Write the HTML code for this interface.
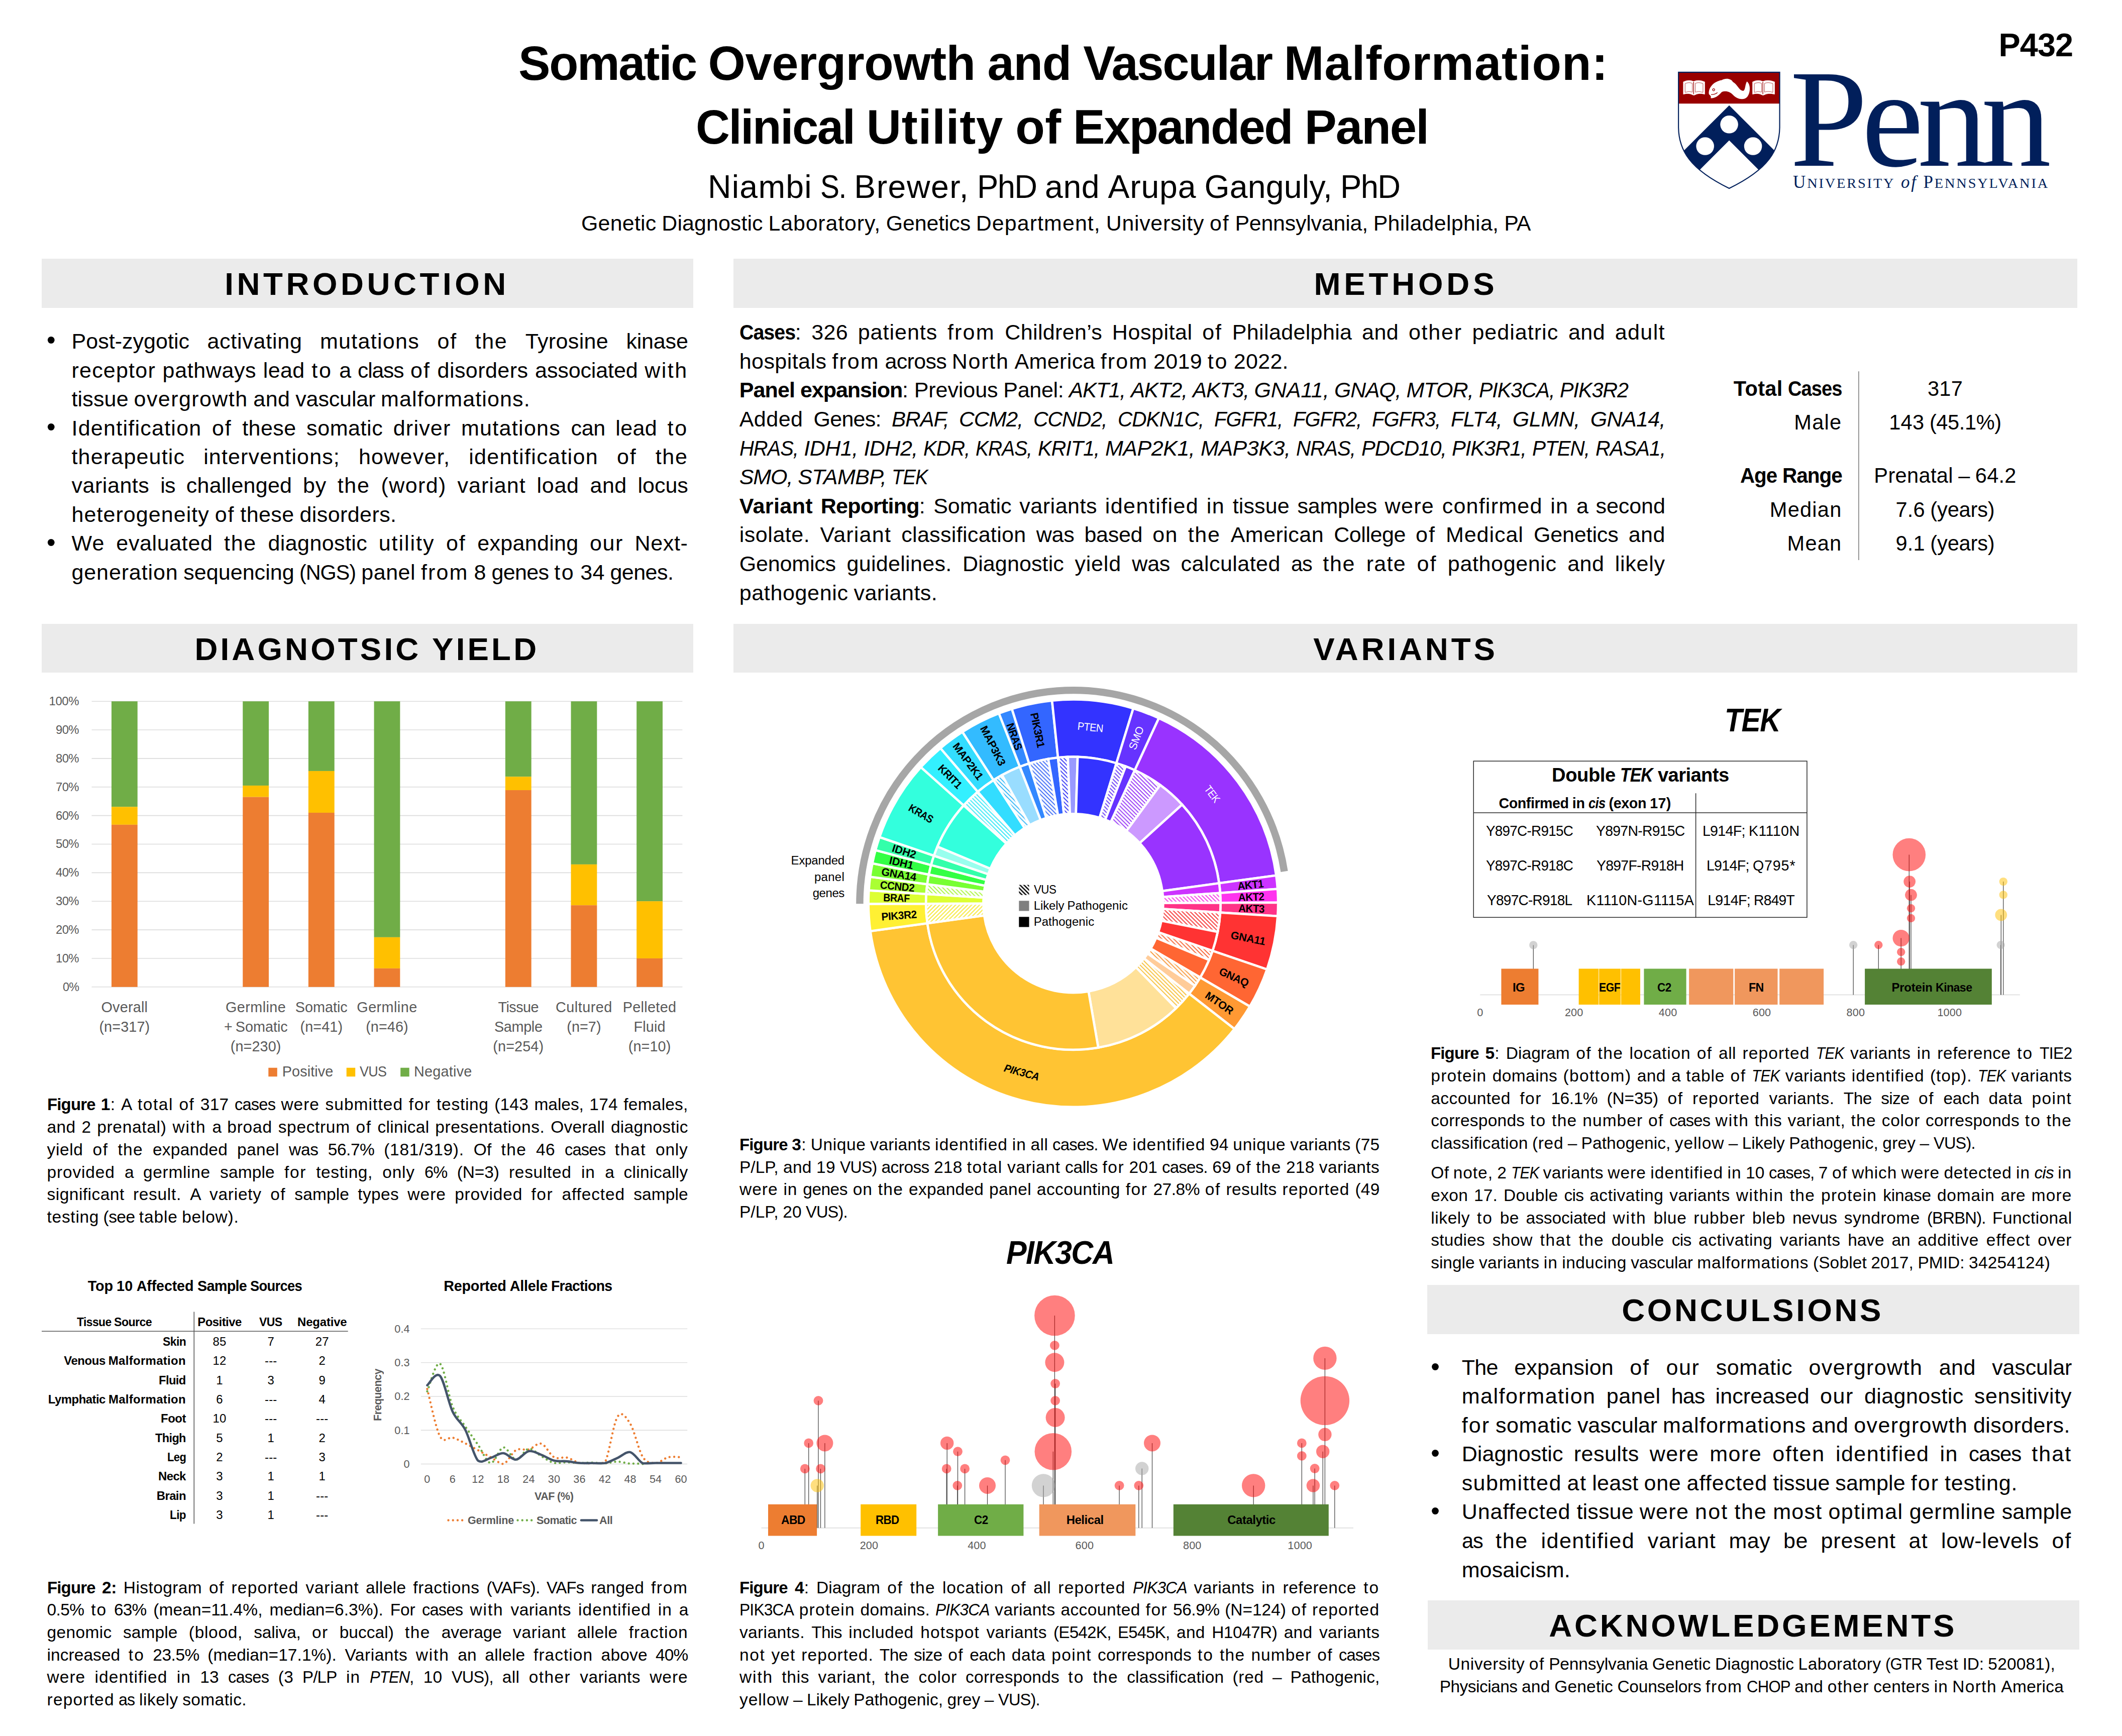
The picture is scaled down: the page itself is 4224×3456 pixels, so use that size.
<!DOCTYPE html>
<html lang="en"><head><meta charset="utf-8"><title>Somatic Overgrowth and Vascular Malformation: Clinical Utility of Expanded Panel</title>
<style>
html,body{margin:0;padding:0;background:#fff}
body{width:4224px;height:3456px;position:relative;font-family:"Liberation Sans",sans-serif;color:#000}
.t{position:absolute;white-space:pre;line-height:1;margin:0;padding:0}
.sf{font-family:"Liberation Serif",serif}
.bx{position:absolute}
svg{position:absolute;left:0;top:0}
b{font-weight:bold}i{font-style:italic}

.x{display:inline-block;transform-origin:0 0}
</style></head><body>
<div class="bx" style="left:83px;top:514.5px;width:1297px;height:98.0px;background:#EBEBEB"></div>
<div class="bx" style="left:1460px;top:514.5px;width:2675px;height:98.0px;background:#EBEBEB"></div>
<div class="bx" style="left:83px;top:1241.5px;width:1297px;height:97.5px;background:#EBEBEB"></div>
<div class="bx" style="left:1460px;top:1241.5px;width:2675px;height:97.5px;background:#EBEBEB"></div>
<div class="bx" style="left:2841px;top:2558px;width:1297.5px;height:97.5px;background:#EBEBEB"></div>
<div class="bx" style="left:2842px;top:3186px;width:1297px;height:97.5px;background:#EBEBEB"></div>
<svg width="4224" height="3456" viewBox="0 0 4224 3456">
<line x1="3699.9" y1="739.3" x2="3699.9" y2="1115" stroke="#7f7f7f" stroke-width="1.6"/>
<line x1="182.5" y1="1964.8" x2="1358.4" y2="1964.8" stroke="#dcdcdc" stroke-width="1.6"/>
<line x1="182.5" y1="1907.94" x2="1358.4" y2="1907.94" stroke="#dcdcdc" stroke-width="1.6"/>
<line x1="182.5" y1="1851.08" x2="1358.4" y2="1851.08" stroke="#dcdcdc" stroke-width="1.6"/>
<line x1="182.5" y1="1794.22" x2="1358.4" y2="1794.22" stroke="#dcdcdc" stroke-width="1.6"/>
<line x1="182.5" y1="1737.36" x2="1358.4" y2="1737.36" stroke="#dcdcdc" stroke-width="1.6"/>
<line x1="182.5" y1="1680.5" x2="1358.4" y2="1680.5" stroke="#dcdcdc" stroke-width="1.6"/>
<line x1="182.5" y1="1623.64" x2="1358.4" y2="1623.64" stroke="#dcdcdc" stroke-width="1.6"/>
<line x1="182.5" y1="1566.78" x2="1358.4" y2="1566.78" stroke="#dcdcdc" stroke-width="1.6"/>
<line x1="182.5" y1="1509.92" x2="1358.4" y2="1509.92" stroke="#dcdcdc" stroke-width="1.6"/>
<line x1="182.5" y1="1453.06" x2="1358.4" y2="1453.06" stroke="#dcdcdc" stroke-width="1.6"/>
<line x1="182.5" y1="1396.2" x2="1358.4" y2="1396.2" stroke="#dcdcdc" stroke-width="1.6"/>
<rect x="221.93" y="1396.2" width="51.8" height="210.1" fill="#70ad47"/>
<rect x="221.93" y="1606.3" width="51.8" height="35.54" fill="#ffc000"/>
<rect x="221.93" y="1641.84" width="51.8" height="322.96" fill="#ed7d31"/>
<rect x="483.24" y="1396.2" width="51.8" height="167.74" fill="#70ad47"/>
<rect x="483.24" y="1563.94" width="51.8" height="22.74" fill="#ffc000"/>
<rect x="483.24" y="1586.68" width="51.8" height="378.12" fill="#ed7d31"/>
<rect x="613.89" y="1396.2" width="51.8" height="138.74" fill="#70ad47"/>
<rect x="613.89" y="1534.94" width="51.8" height="83.02" fill="#ffc000"/>
<rect x="613.89" y="1617.95" width="51.8" height="346.85" fill="#ed7d31"/>
<rect x="744.55" y="1396.2" width="51.8" height="469.66" fill="#70ad47"/>
<rect x="744.55" y="1865.86" width="51.8" height="61.98" fill="#ffc000"/>
<rect x="744.55" y="1927.84" width="51.8" height="36.96" fill="#ed7d31"/>
<rect x="1005.86" y="1396.2" width="51.8" height="150.11" fill="#70ad47"/>
<rect x="1005.86" y="1546.31" width="51.8" height="26.72" fill="#ffc000"/>
<rect x="1005.86" y="1573.03" width="51.8" height="391.77" fill="#ed7d31"/>
<rect x="1136.52" y="1396.2" width="51.8" height="324.67" fill="#70ad47"/>
<rect x="1136.52" y="1720.87" width="51.8" height="81.31" fill="#ffc000"/>
<rect x="1136.52" y="1802.18" width="51.8" height="162.62" fill="#ed7d31"/>
<rect x="1267.17" y="1396.2" width="51.8" height="398.02" fill="#70ad47"/>
<rect x="1267.17" y="1794.22" width="51.8" height="113.72" fill="#ffc000"/>
<rect x="1267.17" y="1907.94" width="51.8" height="56.86" fill="#ed7d31"/>
<rect x="534.3" y="2125.7" width="17.5" height="17.5" fill="#ed7d31"/>
<rect x="689.7" y="2125.7" width="17.5" height="17.5" fill="#ffc000"/>
<rect x="797.2" y="2125.7" width="17.5" height="17.5" fill="#70ad47"/>
<line x1="83" y1="2650.3" x2="692.7" y2="2650.3" stroke="#595959" stroke-width="1.6"/>
<line x1="386.3" y1="2611.4" x2="386.3" y2="3033.6" stroke="#595959" stroke-width="1.6"/>
<line x1="837.8" y1="2914.5" x2="1368.2" y2="2914.5" stroke="#dcdcdc" stroke-width="1.4"/>
<line x1="837.8" y1="2847.22" x2="1368.2" y2="2847.22" stroke="#dcdcdc" stroke-width="1.4"/>
<line x1="837.8" y1="2779.94" x2="1368.2" y2="2779.94" stroke="#dcdcdc" stroke-width="1.4"/>
<line x1="837.8" y1="2712.66" x2="1368.2" y2="2712.66" stroke="#dcdcdc" stroke-width="1.4"/>
<line x1="837.8" y1="2645.38" x2="1368.2" y2="2645.38" stroke="#dcdcdc" stroke-width="1.4"/>
<path d="M850.43 2765.14C854.64 2780.84 867.27 2843.18 875.69 2859.33C884.1 2875.48 892.52 2859.67 900.94 2862.02C909.36 2864.38 917.78 2869.31 926.2 2873.46C934.62 2877.61 943.04 2882.32 951.46 2886.92C959.88 2891.51 968.3 2896.45 976.71 2901.04C985.13 2905.64 993.55 2913.5 1001.97 2914.5C1010.39 2912.15 1018.81 2891.74 1027.23 2886.92C1035.65 2882.09 1044.07 2887.7 1052.49 2885.57C1060.9 2883.44 1069.32 2871.55 1077.74 2874.13C1086.16 2876.71 1094.58 2896.45 1103 2901.04C1111.42 2905.64 1119.84 2899.81 1128.26 2901.72C1136.68 2903.62 1145.1 2910.58 1153.51 2912.48C1161.93 2913.5 1170.35 2913.27 1178.77 2913.15C1187.19 2913.04 1195.61 2913.5 1204.03 2911.81C1212.45 2896.33 1220.87 2833.2 1229.29 2820.31C1237.7 2807.41 1246.12 2820.98 1254.54 2834.44C1262.96 2847.89 1271.38 2888.04 1279.8 2901.04C1288.22 2913.5 1296.64 2912.48 1305.06 2912.48C1313.48 2912.48 1321.9 2902.95 1330.31 2901.04C1338.73 2899.14 1351.36 2901.04 1355.57 2901.04" fill="none" stroke="#ed7d31" stroke-width="4.4" stroke-linecap="round" stroke-dasharray="0.01 9.2"/>
<path d="M850.43 2769.85C854.64 2760.65 867.27 2709.63 875.69 2714.68C884.1 2719.72 892.52 2779.27 900.94 2800.12C909.36 2820.98 917.78 2827.15 926.2 2839.82C934.62 2852.49 943.04 2864.04 951.46 2876.15C959.88 2888.26 968.3 2911.58 976.71 2912.48C985.13 2913.38 993.55 2882.65 1001.97 2881.53C1010.39 2880.41 1018.81 2905.31 1027.23 2905.75C1035.65 2906.2 1044.07 2885.35 1052.49 2884.22C1060.9 2883.1 1069.32 2894.32 1077.74 2899.03C1086.16 2903.74 1094.58 2910.46 1103 2912.48C1111.42 2913.5 1119.84 2911.14 1128.26 2911.14C1136.68 2911.14 1145.1 2912.37 1153.51 2912.48C1161.93 2912.59 1170.35 2911.7 1178.77 2911.81C1187.19 2911.92 1195.61 2913.49 1204.03 2913.15C1212.45 2912.82 1220.87 2909.68 1229.29 2909.79C1237.7 2909.9 1246.12 2913.04 1254.54 2913.83C1262.96 2913.5 1275.59 2913.5 1279.8 2914.5" fill="none" stroke="#70ad47" stroke-width="4.4" stroke-linecap="round" stroke-dasharray="0.01 9.2"/>
<path d="M850.43 2757.74C854.64 2754.6 867.27 2730.15 875.69 2738.9C884.1 2747.65 892.52 2792.27 900.94 2810.22C909.36 2828.16 917.78 2830.29 926.2 2846.55C934.62 2862.81 943.04 2898.46 951.46 2907.77C959.88 2913.5 968.3 2904.86 976.71 2902.39C985.13 2899.92 993.55 2892.41 1001.97 2892.97C1010.39 2893.53 1018.81 2906.43 1027.23 2905.75C1035.65 2905.08 1044.07 2890.5 1052.49 2888.93C1060.9 2887.36 1069.32 2893.19 1077.74 2896.33C1086.16 2899.47 1094.58 2905.64 1103 2907.77C1111.42 2909.9 1119.84 2908.33 1128.26 2909.12C1136.68 2909.9 1145.1 2911.86 1153.51 2912.48C1161.93 2913.1 1170.35 2912.76 1178.77 2912.82C1187.19 2912.87 1195.61 2913.5 1204.03 2912.82C1212.45 2911.08 1220.87 2906.03 1229.29 2902.39C1237.7 2898.75 1246.12 2889.16 1254.54 2890.95C1262.96 2892.75 1271.38 2909.57 1279.8 2913.15C1288.22 2913.5 1296.64 2912.59 1305.06 2912.48C1313.48 2912.37 1321.9 2912.48 1330.31 2912.48C1338.73 2912.48 1351.36 2912.48 1355.57 2912.48" fill="none" stroke="#44546a" stroke-width="4.6" stroke-linecap="round"/>
<path d="M892.5 3026.5H924.5" fill="none" stroke="#ed7d31" stroke-width="4.4" stroke-linecap="round" stroke-dasharray="0.01 9.2"/>
<path d="M1030.5 3026.5H1062.5" fill="none" stroke="#70ad47" stroke-width="4.4" stroke-linecap="round" stroke-dasharray="0.01 9.2"/>
<path d="M1157 3026.5H1188" fill="none" stroke="#44546a" stroke-width="4.6" stroke-linecap="round"/>
<line x1="1515.5" y1="3041.8" x2="2694" y2="3041.8" stroke="#d9d9d9" stroke-width="1.6"/>
<path d="M1602.3 2923.9V3041.8M1609.7 2872.9V3041.8M1626.8 2957.4V3041.8M1629 2788.4V3041.8M1633.5 2923.9V3041.8M1641.9 2872.9V3041.8M1884.2 2923.9V3041.8M1885.2 2872.9V3041.8M1905.8 2957.4V3041.8M1906.5 2889.7V3041.8M1920.6 2923.9V3041.8M1965.5 2957.4V3041.8M2001 2906.8V3041.8M2077 2957.4V3041.8M2096.3 2889.7V3041.8M2099.4 2619V3041.8M2099.4 2678.4V3041.8M2099.4 2712.3V3041.8M2100.6 2754.5V3041.8M2100.6 2788.4V3041.8M2100.6 2821.9V3041.8M2228.1 2957.4V3041.8M2266.8 2957.4V3041.8M2273.2 2923.5V3041.8M2293.5 2872.9V3041.8M2495.2 2957.4V3041.8M2591.3 2872.9V3041.8M2591.3 2898.4V3041.8M2613.9 2957.4V3041.8M2617.1 2923.5V3041.8M2633.2 2889.7V3041.8M2637.4 2703.9V3041.8M2637.4 2788.4V3041.8M2637.4 2855.8V3041.8M2656.8 2957.4V3041.8" stroke="#484848" stroke-width="1.25" fill="none"/>
<circle cx="1602.3" cy="2923.9" r="9.4" fill="rgba(255,0,0,.5)"/>
<circle cx="1609.7" cy="2872.9" r="9.4" fill="rgba(255,0,0,.5)"/>
<circle cx="1626.8" cy="2957.4" r="13.2" fill="rgba(255,192,0,.5)"/>
<circle cx="1629" cy="2788.4" r="9.4" fill="rgba(255,0,0,.5)"/>
<circle cx="1633.5" cy="2923.9" r="9.4" fill="rgba(255,0,0,.5)"/>
<circle cx="1641.9" cy="2872.9" r="16.5" fill="rgba(255,0,0,.5)"/>
<circle cx="1884.2" cy="2923.9" r="9.4" fill="rgba(255,0,0,.5)"/>
<circle cx="1885.2" cy="2872.9" r="13.2" fill="rgba(255,0,0,.5)"/>
<circle cx="1905.8" cy="2957.4" r="9.4" fill="rgba(255,0,0,.5)"/>
<circle cx="1906.5" cy="2889.7" r="9.4" fill="rgba(255,0,0,.5)"/>
<circle cx="1920.6" cy="2923.9" r="9.4" fill="rgba(255,0,0,.5)"/>
<circle cx="1965.5" cy="2957.4" r="16.5" fill="rgba(255,0,0,.5)"/>
<circle cx="2001" cy="2906.8" r="9.4" fill="rgba(255,0,0,.5)"/>
<circle cx="2077" cy="2957.4" r="23.2" fill="rgba(165,165,165,.5)"/>
<circle cx="2096.3" cy="2889.7" r="36.8" fill="rgba(255,0,0,.5)"/>
<circle cx="2099.4" cy="2619" r="40.3" fill="rgba(255,0,0,.5)"/>
<circle cx="2099.4" cy="2678.4" r="9.4" fill="rgba(255,0,0,.5)"/>
<circle cx="2099.4" cy="2712.3" r="19" fill="rgba(255,0,0,.5)"/>
<circle cx="2100.6" cy="2754.5" r="9.4" fill="rgba(255,0,0,.5)"/>
<circle cx="2100.6" cy="2788.4" r="9.4" fill="rgba(255,0,0,.5)"/>
<circle cx="2100.6" cy="2821.9" r="19" fill="rgba(255,0,0,.5)"/>
<circle cx="2228.1" cy="2957.4" r="9.4" fill="rgba(255,0,0,.5)"/>
<circle cx="2266.8" cy="2957.4" r="9.4" fill="rgba(255,0,0,.5)"/>
<circle cx="2273.2" cy="2923.5" r="13.2" fill="rgba(165,165,165,.5)"/>
<circle cx="2293.5" cy="2872.9" r="16.5" fill="rgba(255,0,0,.5)"/>
<circle cx="2495.2" cy="2957.4" r="23.2" fill="rgba(255,0,0,.5)"/>
<circle cx="2591.3" cy="2872.9" r="9.4" fill="rgba(255,0,0,.5)"/>
<circle cx="2591.3" cy="2898.4" r="9.4" fill="rgba(255,0,0,.5)"/>
<circle cx="2613.9" cy="2957.4" r="13.2" fill="rgba(255,0,0,.5)"/>
<circle cx="2617.1" cy="2923.5" r="9.4" fill="rgba(255,0,0,.5)"/>
<circle cx="2633.2" cy="2889.7" r="13.2" fill="rgba(255,0,0,.5)"/>
<circle cx="2637.4" cy="2703.9" r="23.2" fill="rgba(255,0,0,.5)"/>
<circle cx="2637.4" cy="2788.4" r="48.7" fill="rgba(255,0,0,.5)"/>
<circle cx="2637.4" cy="2855.8" r="13.2" fill="rgba(255,0,0,.5)"/>
<circle cx="2656.8" cy="2957.4" r="9.4" fill="rgba(255,0,0,.5)"/>
<rect x="1529" y="2994.8" width="97.1" height="62.7" fill="#ed7d31"/>
<rect x="1713.2" y="2994.8" width="111" height="62.7" fill="#ffc000"/>
<rect x="1867.1" y="2994.8" width="170.3" height="62.7" fill="#70ad47"/>
<rect x="2068.7" y="2994.8" width="191.6" height="62.7" fill="#f0975d"/>
<rect x="2335.8" y="2994.8" width="309" height="62.7" fill="#548235"/>
<line x1="2946.3" y1="1980.5" x2="4020.8" y2="1980.5" stroke="#d9d9d9" stroke-width="1.6"/>
<path d="M3052.3 1881.4V1980.5M3689.2 1881.2V1980.5M3739.3 1881.2V1980.5M3784.2 1867.6V1980.5M3784.2 1895.3V1980.5M3784.2 1914.3V1980.5M3800.3 1701.6V1980.5M3801.2 1755.1V1980.5M3804 1781.7V1980.5M3804 1808.2V1980.5M3804 1828V1980.5M3987.8 1755.1V1980.5M3987.8 1781.4V1980.5M3983.3 1821.5V1980.5M3982.7 1881.2V1980.5" stroke="#484848" stroke-width="1.25" fill="none"/>
<circle cx="3052.3" cy="1881.4" r="8.2" fill="rgba(165,165,165,.5)"/>
<circle cx="3689.2" cy="1881.2" r="8.2" fill="rgba(165,165,165,.5)"/>
<circle cx="3739.3" cy="1881.2" r="8.2" fill="rgba(255,0,0,.5)"/>
<circle cx="3784.2" cy="1867.6" r="16.7" fill="rgba(255,0,0,.5)"/>
<circle cx="3784.2" cy="1895.3" r="8.2" fill="rgba(255,0,0,.5)"/>
<circle cx="3784.2" cy="1914.3" r="8.2" fill="rgba(255,0,0,.5)"/>
<circle cx="3800.3" cy="1701.6" r="32.8" fill="rgba(255,0,0,.5)"/>
<circle cx="3801.2" cy="1755.1" r="11.9" fill="rgba(255,0,0,.5)"/>
<circle cx="3804" cy="1781.7" r="11.9" fill="rgba(255,0,0,.5)"/>
<circle cx="3804" cy="1808.2" r="8.2" fill="rgba(255,0,0,.5)"/>
<circle cx="3804" cy="1828" r="8.2" fill="rgba(255,0,0,.5)"/>
<circle cx="3987.8" cy="1755.1" r="8.2" fill="rgba(255,192,0,.5)"/>
<circle cx="3987.8" cy="1781.4" r="8.2" fill="rgba(255,192,0,.5)"/>
<circle cx="3983.3" cy="1821.5" r="11.9" fill="rgba(255,192,0,.5)"/>
<circle cx="3982.7" cy="1881.2" r="8.2" fill="rgba(165,165,165,.5)"/>
<rect x="2988.4" y="1928.5" width="74" height="71.5" fill="#ed7d31"/>
<rect x="3142.6" y="1928.5" width="39.6" height="71.5" fill="#ffc000"/>
<rect x="3183.1" y="1928.5" width="42.9" height="71.5" fill="#ffc000"/>
<rect x="3226.9" y="1928.5" width="38.1" height="71.5" fill="#ffc000"/>
<rect x="3272.4" y="1928.5" width="84.2" height="71.5" fill="#70ad47"/>
<rect x="3362.1" y="1928.5" width="88.2" height="71.5" fill="#f0975d"/>
<rect x="3453.1" y="1928.5" width="85.4" height="71.5" fill="#f0975d"/>
<rect x="3542.2" y="1928.5" width="87.9" height="71.5" fill="#f0975d"/>
<rect x="3712.1" y="1928.5" width="252.7" height="71.5" fill="#548235"/>
<rect x="2933.2" y="1515.2" width="663.7" height="311.1" fill="none" stroke="#262626" stroke-width="1.5"/>
<line x1="2933.2" y1="1618.1" x2="3596.9" y2="1618.1" stroke="#262626" stroke-width="1.5"/>
<line x1="3375.6" y1="1579.2" x2="3375.6" y2="1826.3" stroke="#262626" stroke-width="1.5"/>
<defs><pattern id="h1" width="7.9" height="7.9" patternUnits="userSpaceOnUse"><rect width="7.9" height="7.9" fill="#fff"/><path d="M-1 -1L8.9 8.9M-1 6.9L1 8.9M6.9 -1L8.9 1" stroke="#a4f731" stroke-width="1.9" fill="none"/></pattern><pattern id="h6" width="7.9" height="7.9" patternUnits="userSpaceOnUse"><rect width="7.9" height="7.9" fill="#fff"/><path d="M-1 -1L8.9 8.9M-1 6.9L1 8.9M6.9 -1L8.9 1" stroke="#31e8f7" stroke-width="1.9" fill="none"/></pattern><pattern id="h8" width="7.9" height="7.9" patternUnits="userSpaceOnUse"><rect width="7.9" height="7.9" fill="#fff"/><path d="M-1 -1L8.9 8.9M-1 6.9L1 8.9M6.9 -1L8.9 1" stroke="#31b5f7" stroke-width="1.9" fill="none"/></pattern><pattern id="h10" width="7.9" height="7.9" patternUnits="userSpaceOnUse"><rect width="7.9" height="7.9" fill="#fff"/><path d="M-1 -1L8.9 8.9M-1 6.9L1 8.9M6.9 -1L8.9 1" stroke="#3162f7" stroke-width="1.9" fill="none"/></pattern><pattern id="h11" width="7.9" height="7.9" patternUnits="userSpaceOnUse"><rect width="7.9" height="7.9" fill="#fff"/><path d="M-1 -1L8.9 8.9M-1 6.9L1 8.9M6.9 -1L8.9 1" stroke="#3131f7" stroke-width="1.9" fill="none"/></pattern><pattern id="h12" width="7.9" height="7.9" patternUnits="userSpaceOnUse"><rect width="7.9" height="7.9" fill="#fff"/><path d="M-1 -1L8.9 8.9M-1 6.9L1 8.9M6.9 -1L8.9 1" stroke="#6231f7" stroke-width="1.9" fill="none"/></pattern><pattern id="h13" width="7.9" height="7.9" patternUnits="userSpaceOnUse"><rect width="7.9" height="7.9" fill="#fff"/><path d="M-1 -1L8.9 8.9M-1 6.9L1 8.9M6.9 -1L8.9 1" stroke="#9431f7" stroke-width="1.9" fill="none"/></pattern><pattern id="h15" width="7.9" height="7.9" patternUnits="userSpaceOnUse"><rect width="7.9" height="7.9" fill="#fff"/><path d="M-1 -1L8.9 8.9M-1 6.9L1 8.9M6.9 -1L8.9 1" stroke="#f731e6" stroke-width="1.9" fill="none"/></pattern><pattern id="h17" width="7.9" height="7.9" patternUnits="userSpaceOnUse"><rect width="7.9" height="7.9" fill="#fff"/><path d="M-1 -1L8.9 8.9M-1 6.9L1 8.9M6.9 -1L8.9 1" stroke="#f73131" stroke-width="1.9" fill="none"/></pattern><pattern id="h18" width="7.9" height="7.9" patternUnits="userSpaceOnUse"><rect width="7.9" height="7.9" fill="#fff"/><path d="M-1 -1L8.9 8.9M-1 6.9L1 8.9M6.9 -1L8.9 1" stroke="#f76231" stroke-width="1.9" fill="none"/></pattern><pattern id="h19" width="7.9" height="7.9" patternUnits="userSpaceOnUse"><rect width="7.9" height="7.9" fill="#fff"/><path d="M-1 -1L8.9 8.9M-1 6.9L1 8.9M6.9 -1L8.9 1" stroke="#f79431" stroke-width="1.9" fill="none"/></pattern><pattern id="h20" width="7.9" height="7.9" patternUnits="userSpaceOnUse"><rect width="7.9" height="7.9" fill="#fff"/><path d="M-1 -1L8.9 8.9M-1 6.9L1 8.9M6.9 -1L8.9 1" stroke="#f7be31" stroke-width="1.9" fill="none"/></pattern><pattern id="h21" width="7.9" height="7.9" patternUnits="userSpaceOnUse"><rect width="7.9" height="7.9" fill="#fff"/><path d="M-1 8.9L8.9 -1M-1 1L1 -1M6.9 8.9L8.9 6.9" stroke="#f7e831" stroke-width="1.9" fill="none"/></pattern><pattern id="hleg" width="7.9" height="7.9" patternUnits="userSpaceOnUse"><rect width="7.9" height="7.9" fill="#fff"/><path d="M-1 -1L8.9 8.9M-1 6.9L1 8.9M6.9 -1L8.9 1" stroke="#000" stroke-width="2.6" fill="none"/></pattern></defs>
<g transform="translate(2136.4,0) scale(1.0053,1) translate(-2136.4,0)" stroke="#fff" stroke-width="4.6" stroke-linejoin="miter"><path d="M1730.8 1799.62A405.6 405.6 0 0 1 1731.61 1772.52L1845.38 1779.74A291.6 291.6 0 0 0 1844.8 1799.22Z" fill="#ddff33"/><path d="M1844.8 1799.22A291.6 291.6 0 0 1 1845.38 1779.74L1958.76 1786.93A178.0 178.0 0 0 0 1958.4 1798.82Z" fill="#ddff33"/><path d="M1731.61 1772.52A405.6 405.6 0 0 1 1734.23 1745.54L1847.27 1760.34A291.6 291.6 0 0 0 1845.38 1779.74Z" fill="#aaff33"/><path d="M1845.38 1779.74A291.6 291.6 0 0 1 1847.27 1760.34L1959.91 1775.09A178.0 178.0 0 0 0 1958.76 1786.93Z" fill="url(#h1)"/><path d="M1734.23 1745.54A405.6 405.6 0 0 1 1738.65 1718.8L1850.44 1741.12A291.6 291.6 0 0 0 1847.27 1760.34Z" fill="#77ff33"/><path d="M1847.27 1760.34A291.6 291.6 0 0 1 1850.44 1741.12L1961.84 1763.35A178.0 178.0 0 0 0 1959.91 1775.09Z" fill="#77ff33"/><path d="M1738.65 1718.8A405.6 405.6 0 0 1 1744.84 1692.41L1854.89 1722.14A291.6 291.6 0 0 0 1850.44 1741.12Z" fill="#33ff44"/><path d="M1850.44 1741.12A291.6 291.6 0 0 1 1854.89 1722.14L1964.56 1751.77A178.0 178.0 0 0 0 1961.84 1763.35Z" fill="#33ff44"/><path d="M1744.84 1692.41A405.6 405.6 0 0 1 1752.78 1666.49L1860.6 1703.51A291.6 291.6 0 0 0 1854.89 1722.14Z" fill="#33ffaa"/><path d="M1854.89 1722.14A291.6 291.6 0 0 1 1860.6 1703.51L1968.05 1740.4A178.0 178.0 0 0 0 1964.56 1751.77Z" fill="#33ffaa"/><path d="M1752.78 1666.49A405.6 405.6 0 0 1 1834.64 1527.18L1919.45 1603.36A291.6 291.6 0 0 0 1860.6 1703.51Z" fill="#33ffdd"/><path d="M1860.6 1703.51A291.6 291.6 0 0 1 1867.54 1685.3L1972.28 1729.28A178.0 178.0 0 0 0 1968.05 1740.4Z" fill="#99ffee"/><path d="M1867.54 1685.3A291.6 291.6 0 0 1 1919.45 1603.36L2003.97 1679.26A178.0 178.0 0 0 0 1972.28 1729.28Z" fill="#33ffdd"/><path d="M1834.64 1527.18A405.6 405.6 0 0 1 1873.45 1489.38L1947.36 1576.18A291.6 291.6 0 0 0 1919.45 1603.36Z" fill="#33f0ff"/><path d="M1919.45 1603.36A291.6 291.6 0 0 1 1947.36 1576.18L2021 1662.67A178.0 178.0 0 0 0 2003.97 1679.26Z" fill="url(#h6)"/><path d="M1873.45 1489.38A405.6 405.6 0 0 1 1916.96 1457.09L1978.64 1552.96A291.6 291.6 0 0 0 1947.36 1576.18Z" fill="#33ddff"/><path d="M1947.36 1576.18A291.6 291.6 0 0 1 1978.64 1552.96L2040.1 1648.5A178.0 178.0 0 0 0 2021 1662.67Z" fill="#33ddff"/><path d="M1916.96 1457.09A405.6 405.6 0 0 1 1989.3 1420.21L2030.65 1526.45A291.6 291.6 0 0 0 1978.64 1552.96Z" fill="#33bbff"/><path d="M1978.64 1552.96A291.6 291.6 0 0 1 1995.37 1542.97L2050.31 1642.4A178.0 178.0 0 0 0 2040.1 1648.5Z" fill="url(#h8)"/><path d="M1995.37 1542.97A291.6 291.6 0 0 1 2030.65 1526.45L2071.85 1632.32A178.0 178.0 0 0 0 2050.31 1642.4Z" fill="#99ddff"/><path d="M1989.3 1420.21A405.6 405.6 0 0 1 2014.88 1411.23L2049.03 1520A291.6 291.6 0 0 0 2030.65 1526.45Z" fill="#3388ff"/><path d="M2030.65 1526.45A291.6 291.6 0 0 1 2049.03 1520L2083.07 1628.38A178.0 178.0 0 0 0 2071.85 1632.32Z" fill="#3388ff"/><path d="M2014.88 1411.23A405.6 405.6 0 0 1 2094.39 1394.78L2106.2 1508.17A291.6 291.6 0 0 0 2049.03 1520Z" fill="#3366ff"/><path d="M2049.03 1520A291.6 291.6 0 0 1 2086.89 1510.83L2106.18 1622.78A178.0 178.0 0 0 0 2083.07 1628.38Z" fill="url(#h10)"/><path d="M2086.89 1510.83A291.6 291.6 0 0 1 2106.2 1508.17L2117.96 1621.16A178.0 178.0 0 0 0 2106.18 1622.78Z" fill="#3366ff"/><path d="M2094.39 1394.78A405.6 405.6 0 0 1 2255.22 1410.39L2221.82 1519.39A291.6 291.6 0 0 0 2106.2 1508.17Z" fill="#3333ff"/><path d="M2106.2 1508.17A291.6 291.6 0 0 1 2125.64 1506.8L2129.83 1620.32A178.0 178.0 0 0 0 2117.96 1621.16Z" fill="url(#h11)"/><path d="M2125.64 1506.8A291.6 291.6 0 0 1 2145.13 1506.73L2141.73 1620.28A178.0 178.0 0 0 0 2129.83 1620.32Z" fill="#9999ff"/><path d="M2145.13 1506.73A291.6 291.6 0 0 1 2221.82 1519.39L2188.54 1628.01A178.0 178.0 0 0 0 2141.73 1620.28Z" fill="#3333ff"/><path d="M2255.22 1410.39A405.6 405.6 0 0 1 2305.85 1429.69L2258.22 1533.27A291.6 291.6 0 0 0 2221.82 1519.39Z" fill="#6633ff"/><path d="M2221.82 1519.39A291.6 291.6 0 0 1 2240.25 1525.72L2199.79 1631.87A178.0 178.0 0 0 0 2188.54 1628.01Z" fill="url(#h12)"/><path d="M2240.25 1525.72A291.6 291.6 0 0 1 2258.22 1533.27L2210.76 1636.48A178.0 178.0 0 0 0 2199.79 1631.87Z" fill="#6633ff"/><path d="M2305.85 1429.69A405.6 405.6 0 0 1 2538.19 1742.74L2425.26 1758.32A291.6 291.6 0 0 0 2258.22 1533.27Z" fill="#9933ff"/><path d="M2258.22 1533.27A291.6 291.6 0 0 1 2308.55 1562.84L2241.49 1654.53A178.0 178.0 0 0 0 2210.76 1636.48Z" fill="url(#h13)"/><path d="M2308.55 1562.84A291.6 291.6 0 0 1 2351.98 1601.85L2268 1678.34A178.0 178.0 0 0 0 2241.49 1654.53Z" fill="#cc99ff"/><path d="M2351.98 1601.85A291.6 291.6 0 0 1 2425.26 1758.32L2312.73 1773.86A178.0 178.0 0 0 0 2268 1678.34Z" fill="#9933ff"/><path d="M2538.19 1742.74A405.6 405.6 0 0 1 2541 1769.7L2427.28 1777.71A291.6 291.6 0 0 0 2425.26 1758.32Z" fill="#cc33ff"/><path d="M2425.26 1758.32A291.6 291.6 0 0 1 2427.28 1777.71L2313.96 1785.69A178.0 178.0 0 0 0 2312.73 1773.86Z" fill="#cc33ff"/><path d="M2541 1769.7A405.6 405.6 0 0 1 2542 1796.78L2428 1797.18A291.6 291.6 0 0 0 2427.28 1777.71Z" fill="#ff33ee"/><path d="M2427.28 1777.71A291.6 291.6 0 0 1 2428 1797.18L2314.4 1797.58A178.0 178.0 0 0 0 2313.96 1785.69Z" fill="url(#h15)"/><path d="M2542 1796.78A405.6 405.6 0 0 1 2541.19 1823.88L2427.42 1816.66A291.6 291.6 0 0 0 2428 1797.18Z" fill="#ff3388"/><path d="M2428 1797.18A291.6 291.6 0 0 1 2427.42 1816.66L2314.04 1809.47A178.0 178.0 0 0 0 2314.4 1797.58Z" fill="#ff3388"/><path d="M2541.19 1823.88A405.6 405.6 0 0 1 2520.02 1929.91L2412.2 1892.89A291.6 291.6 0 0 0 2427.42 1816.66Z" fill="#ff3333"/><path d="M2427.42 1816.66A291.6 291.6 0 0 1 2422.36 1855.28L2310.96 1833.05A178.0 178.0 0 0 0 2314.04 1809.47Z" fill="url(#h17)"/><path d="M2422.36 1855.28A291.6 291.6 0 0 1 2412.2 1892.89L2304.75 1856A178.0 178.0 0 0 0 2310.96 1833.05Z" fill="#ff3333"/><path d="M2520.02 1929.91A405.6 405.6 0 0 1 2486.1 2003.68L2387.81 1945.93A291.6 291.6 0 0 0 2412.2 1892.89Z" fill="#ff6633"/><path d="M2412.2 1892.89A291.6 291.6 0 0 1 2405.26 1911.1L2300.52 1867.12A178.0 178.0 0 0 0 2304.75 1856Z" fill="url(#h18)"/><path d="M2405.26 1911.1A291.6 291.6 0 0 1 2387.81 1945.93L2289.87 1888.38A178.0 178.0 0 0 0 2300.52 1867.12Z" fill="#ff6633"/><path d="M2486.1 2003.68A405.6 405.6 0 0 1 2455.59 2048.46L2365.88 1978.12A291.6 291.6 0 0 0 2387.81 1945.93Z" fill="#ff9933"/><path d="M2387.81 1945.93A291.6 291.6 0 0 1 2377.38 1962.39L2283.5 1898.43A178.0 178.0 0 0 0 2289.87 1888.38Z" fill="url(#h19)"/><path d="M2377.38 1962.39A291.6 291.6 0 0 1 2365.88 1978.12L2276.48 1908.03A178.0 178.0 0 0 0 2283.5 1898.43Z" fill="#ffcc99"/><path d="M2455.59 2048.46A405.6 405.6 0 0 1 1734.61 1853.66L1847.54 1838.08A291.6 291.6 0 0 0 2365.88 1978.12Z" fill="#ffc433"/><path d="M2365.88 1978.12A291.6 291.6 0 0 1 2339.85 2007.1L2260.59 1925.72A178.0 178.0 0 0 0 2276.48 1908.03Z" fill="url(#h20)"/><path d="M2339.85 2007.1A291.6 291.6 0 0 1 2185.91 2085.57L2166.62 1973.62A178.0 178.0 0 0 0 2260.59 1925.72Z" fill="#ffe199"/><path d="M2185.91 2085.57A291.6 291.6 0 0 1 1847.54 1838.08L1960.07 1822.54A178.0 178.0 0 0 0 2166.62 1973.62Z" fill="#ffc433"/><path d="M1734.61 1853.66A405.6 405.6 0 0 1 1730.8 1799.62L1844.8 1799.22A291.6 291.6 0 0 0 1847.54 1838.08Z" fill="#fff033"/><path d="M1847.54 1838.08A291.6 291.6 0 0 1 1844.8 1799.22L1958.4 1798.82A178.0 178.0 0 0 0 1960.07 1822.54Z" fill="url(#h21)"/></g>
<path d="M1711.4 1799.2A425 425 0 0 1 2556.51 1734.91" fill="none" stroke="#a6a6a6" stroke-width="14.4"/>
<rect x="2028.3" y="1761.6" width="20.2" height="20.2" fill="url(#hleg)"/>
<rect x="2028.3" y="1793.3" width="20.2" height="20.2" fill="#7f7f7f"/>
<rect x="2028.3" y="1825.3" width="20.2" height="20.2" fill="#000"/>
<g transform="translate(3300,40) scale(0.42409)"><clipPath id="shc"><path d="M97 245H572V500C572 610 520 700 335 790C150 700 97 610 97 500Z"/></clipPath><path d="M97 245H572V500C572 610 520 700 335 790C150 700 97 610 97 500Z" fill="#fff"/><g clip-path="url(#shc)"><rect x="90" y="240" width="490" height="152" fill="#990000"/><path d="M335 400L35 700L117.5 782.5L335 565L552.5 782.5L635 700Z" fill="#011f5b"/></g><circle cx="335" cy="490" r="42" fill="#fff"/><circle cx="222" cy="592" r="42" fill="#fff"/><circle cx="447" cy="592" r="42" fill="#fff"/><g fill="#fff" stroke="#fff" stroke-width="2"><path d="M120 290Q145 278 168 288Q192 278 220 290V348Q192 340 172 352H166Q146 340 120 348Z"/><path d="M445 290Q470 278 493 288Q517 278 548 290V348Q517 340 497 352H491Q471 340 445 348Z"/></g><path d="M168 290V348M493 290V348" stroke="#990000" stroke-width="3" fill="none"/><path d="M128 298Q147 290 162 297V338Q147 332 128 339ZM176 297Q192 290 212 298V339Q192 332 176 338ZM453 298Q472 290 487 297V338Q472 332 453 339ZM501 297Q517 290 540 298V339Q517 332 501 338Z" fill="none" stroke="#990000" stroke-width="1.6"/><path d="M240 348C236 318 262 288 300 282C320 270 345 276 352 290C372 300 380 328 398 332C412 334 408 306 418 288C436 300 436 340 420 360C404 378 372 372 352 350C338 336 318 330 300 338C290 350 270 370 248 366C252 358 246 354 240 348Z" fill="#fff"/><path d="M262 322A5 5 0 1 0 262.1 322M250 350Q268 350 280 340" fill="none" stroke="#990000" stroke-width="3"/><path d="M97 245H572V500C572 610 520 700 335 790C150 700 97 610 97 500Z" fill="none" stroke="#011f5b" stroke-width="5"/></g>
</svg>
<div class="t" style="left:447.23px;top:533px;font-size:63.63px;letter-spacing:6.56px"><b>INTRODUCTION</b></div>
<div class="t" style="left:2615.42px;top:533px;font-size:63.63px;letter-spacing:6.84px"><b>METHODS</b></div>
<div class="t" style="left:387.38px;top:1260px;font-size:63.63px;letter-spacing:5.16px"><b>DIAGNOTSIC YIELD</b></div>
<div class="t" style="left:2614.19px;top:1260px;font-size:63.63px;letter-spacing:5.88px"><b>VARIANTS</b></div>
<div class="t" style="left:3228.21px;top:2576px;font-size:63.63px;letter-spacing:4.62px"><b>CONCULSIONS</b></div>
<div class="t" style="left:3083.2px;top:3204px;font-size:63.63px;letter-spacing:4.8px"><b>ACKNOWLEDGEMENTS</b></div>
<div class="t" style="left:1031.77px;top:78px;font-size:95.67px;word-spacing:-2.55px"><b><span class="x" style="letter-spacing:-2.39px;transform:scaleX(0.9955);margin-right:-1.6px">Somatic</span> <span style="letter-spacing:-0.49px">Overgrowth</span> <span style="letter-spacing:-1.17px">and</span> <span style="letter-spacing:-2.24px">Vascular</span> <span style="letter-spacing:1.01px">Malformation:</span></b></div>
<div class="t" style="left:1385px;top:205px;font-size:95.94px;word-spacing:-2.56px"><b><span class="x" style="letter-spacing:-2.4px;transform:scaleX(0.9800);margin-right:-6.45px">Clinical</span> <span style="letter-spacing:0.86px">Utility</span> <span style="letter-spacing:0.24px">of</span> <span class="x" style="letter-spacing:-2.4px;transform:scaleX(0.9927);margin-right:-3.22px">Expanded</span> <span style="letter-spacing:-1.91px">Panel</span></b></div>
<div class="t" style="left:1409px;top:340px;font-size:64.35px;word-spacing:-1.7px"><span style="letter-spacing:1.28px">Niambi</span> <span class="x" style="letter-spacing:-1.61px;transform:scaleX(0.8841);margin-right:-6.67px">S.</span> <span style="letter-spacing:1.53px">Brewer,</span> <span class="x" style="letter-spacing:-1.61px;transform:scaleX(0.9847);margin-right:-1.85px">PhD</span> <span style="letter-spacing:0.68px">and</span> <span style="letter-spacing:0.8px">Arupa</span> <span style="letter-spacing:0.25px">Ganguly,</span> <span class="x" style="letter-spacing:-1.61px;transform:scaleX(0.9847);margin-right:-1.85px">PhD</span></div>
<div class="t" style="left:1157px;top:423px;font-size:42.88px;word-spacing:-1.12px"><span style="letter-spacing:0.25px">Genetic</span> <span style="letter-spacing:0.11px">Diagnostic</span> <span style="letter-spacing:0.9px">Laboratory,</span> <span style="letter-spacing:-0.13px">Genetics</span> <span style="letter-spacing:1.11px">Department,</span> <span style="letter-spacing:0.72px">University</span> <span style="letter-spacing:1.95px">of</span> <span style="letter-spacing:-0.19px">Pennsylvania,</span> <span style="letter-spacing:0.32px">Philadelphia,</span> <span style="letter-spacing:-0.91px">PA</span></div>
<div class="t" style="left:3978.5px;top:58px;font-size:64.8px;word-spacing:-1.72px"><b><span style="letter-spacing:-0.89px">P432</span></b></div>
<div class="t" style="left:142.5px;top:658px;font-size:43.02px;word-spacing:23.35px"><span style="letter-spacing:0.03px">Post-zygotic</span> <span style="letter-spacing:0.74px">activating</span> <span style="letter-spacing:1.3px">mutations</span> <span style="letter-spacing:1.96px">of</span> <span style="letter-spacing:1.7px">the</span> <span style="letter-spacing:0.35px">Tyrosine</span> <span style="letter-spacing:-0.19px">kinase</span></div>
<div class="t" style="left:142.5px;top:716px;font-size:43.02px;word-spacing:1.75px"><span style="letter-spacing:1.2px">receptor</span> <span style="letter-spacing:0.6px">pathways</span> <span style="letter-spacing:0.36px">lead</span> <span style="letter-spacing:2.67px">to</span> <span style="letter-spacing:-1.03px">a</span> <span class="x" style="letter-spacing:-1.08px;transform:scaleX(0.9874);margin-right:-1.17px">class</span> <span style="letter-spacing:1.96px">of</span> <span style="letter-spacing:0.44px">disorders</span> <span style="letter-spacing:-0.12px">associated</span> <span style="letter-spacing:2.44px">with</span></div>
<div class="t" style="left:142.5px;top:773px;font-size:43.02px;word-spacing:-1.14px"><span style="letter-spacing:0.15px">tissue</span> <span style="letter-spacing:1.41px">overgrowth</span> <span style="letter-spacing:0.45px">and</span> <span style="letter-spacing:-0.14px">vascular</span> <span style="letter-spacing:1.11px">malformations.</span></div>
<div class="t" style="left:142.5px;top:831px;font-size:43.02px;word-spacing:8.49px"><span style="letter-spacing:1.25px">Identification</span> <span style="letter-spacing:1.96px">of</span> <span style="letter-spacing:0.43px">these</span> <span style="letter-spacing:0.57px">somatic</span> <span style="letter-spacing:1.2px">driver</span> <span style="letter-spacing:1.3px">mutations</span> <span style="letter-spacing:-0.38px">can</span> <span style="letter-spacing:0.36px">lead</span> <span style="letter-spacing:2.67px">to</span></div>
<div class="t" style="left:142.5px;top:888px;font-size:43.02px;word-spacing:25px"><span style="letter-spacing:1.17px">therapeutic</span> <span style="letter-spacing:1.14px">interventions;</span> <span style="letter-spacing:1.26px">however,</span> <span style="letter-spacing:1.34px">identification</span> <span style="letter-spacing:1.96px">of</span> <span style="letter-spacing:1.7px">the</span></div>
<div class="t" style="left:142.5px;top:945px;font-size:43.02px;word-spacing:9.9px"><span style="letter-spacing:0.53px">variants</span> <span style="letter-spacing:-0.7px">is</span> <span style="letter-spacing:0.24px">challenged</span> <span style="letter-spacing:0.66px">by</span> <span style="letter-spacing:1.7px">the</span> <span style="letter-spacing:1.38px">(word)</span> <span style="letter-spacing:1px">variant</span> <span style="letter-spacing:0.71px">load</span> <span style="letter-spacing:0.45px">and</span> <span style="letter-spacing:-0.04px">locus</span></div>
<div class="t" style="left:142.5px;top:1003px;font-size:43.02px;word-spacing:-1.14px"><span style="letter-spacing:1.05px">heterogeneity</span> <span style="letter-spacing:1.96px">of</span> <span style="letter-spacing:0.43px">these</span> <span style="letter-spacing:0.41px">disorders.</span></div>
<div class="t" style="left:142.5px;top:1060px;font-size:43.02px;word-spacing:10.58px"><span style="letter-spacing:1.28px">We</span> <span style="letter-spacing:0.62px">evaluated</span> <span style="letter-spacing:1.7px">the</span> <span style="letter-spacing:0.4px">diagnostic</span> <span style="letter-spacing:1.95px">utility</span> <span style="letter-spacing:1.96px">of</span> <span style="letter-spacing:0.31px">expanding</span> <span style="letter-spacing:1.6px">our</span> <span style="letter-spacing:0.64px">Next-</span></div>
<div class="t" style="left:142.5px;top:1118px;font-size:43.02px;word-spacing:-1.14px"><span style="letter-spacing:0.87px">generation</span> <span style="letter-spacing:0.03px">sequencing</span> <span class="x" style="letter-spacing:-1.08px;transform:scaleX(0.9611);margin-right:-4.53px">(NGS)</span> <span style="letter-spacing:0.53px">panel</span> <span style="letter-spacing:2.15px">from</span> <span style="letter-spacing:0.3px">8</span> <span style="letter-spacing:-0.67px">genes</span> <span style="letter-spacing:2.67px">to</span> <span style="letter-spacing:0.3px">34</span> <span style="letter-spacing:-0.54px">genes.</span></div>
<div class="t" style="left:92.8px;top:651px;font-size:51.39px;word-spacing:-1.36px"><span style="letter-spacing:10.44px">•</span></div>
<div class="t" style="left:92.8px;top:824px;font-size:51.39px;word-spacing:-1.36px"><span style="letter-spacing:10.44px">•</span></div>
<div class="t" style="left:92.8px;top:1054px;font-size:51.39px;word-spacing:-1.36px"><span style="letter-spacing:10.44px">•</span></div>
<div class="t" style="left:1471.7px;top:640px;font-size:43.02px;word-spacing:7.76px"><b><span class="x" style="letter-spacing:-1.08px;transform:scaleX(0.9152);margin-right:-10.29px">Cases</span></b><span style="letter-spacing:0.84px">:</span> <span style="letter-spacing:0.3px">326</span> <span style="letter-spacing:0.99px">patients</span> <span style="letter-spacing:2.15px">from</span> <span style="letter-spacing:0.33px">Children’s</span> <span style="letter-spacing:0.53px">Hospital</span> <span style="letter-spacing:1.96px">of</span> <span style="letter-spacing:0.35px">Philadelphia</span> <span style="letter-spacing:0.45px">and</span> <span style="letter-spacing:1.75px">other</span> <span style="letter-spacing:1.02px">pediatric</span> <span style="letter-spacing:0.45px">and</span> <span style="letter-spacing:1.37px">adult</span></div>
<div class="t" style="left:1471.7px;top:698px;font-size:43.02px;word-spacing:-1.14px"><span style="letter-spacing:0.43px">hospitals</span> <span style="letter-spacing:2.15px">from</span> <span style="letter-spacing:-0.72px">across</span> <span style="letter-spacing:1.73px">North</span> <span style="letter-spacing:0.37px">America</span> <span style="letter-spacing:2.15px">from</span> <span style="letter-spacing:0.3px">2019</span> <span style="letter-spacing:2.67px">to</span> <span style="letter-spacing:0.26px">2022.</span></div>
<div class="t" style="left:1471.7px;top:755px;font-size:43.02px;word-spacing:-1.14px"><b><span style="letter-spacing:-0.86px">Panel</span> <span style="letter-spacing:-1.07px">expansion</span></b><span style="letter-spacing:0.84px">:</span> <span style="letter-spacing:-0.08px">Previous</span> <span style="letter-spacing:-0.29px">Panel:</span> <i><span class="x" style="letter-spacing:-1.08px;transform:scaleX(0.9805);margin-right:-2.23px">AKT1,</span> <span class="x" style="letter-spacing:-1.08px;transform:scaleX(0.9805);margin-right:-2.23px">AKT2,</span> <span class="x" style="letter-spacing:-1.08px;transform:scaleX(0.9805);margin-right:-2.23px">AKT3,</span> <span style="letter-spacing:-0.14px">GNA11,</span> <span class="x" style="letter-spacing:-1.08px;transform:scaleX(0.9929);margin-right:-0.95px">GNAQ,</span> <span style="letter-spacing:-0.9px">MTOR,</span> <span class="x" style="letter-spacing:-1.08px;transform:scaleX(0.9550);margin-right:-7.08px">PIK3CA,</span> <span class="x" style="letter-spacing:-1.08px;transform:scaleX(0.9590);margin-right:-5.81px">PIK3R2</span></i></div>
<div class="t" style="left:1471.7px;top:813px;font-size:43.02px;word-spacing:9.06px"><span style="letter-spacing:0.48px">Added</span> <span style="letter-spacing:-0.73px">Genes:</span> <i><span class="x" style="letter-spacing:-1.08px;transform:scaleX(0.9805);margin-right:-2.26px">BRAF,</span> <span class="x" style="letter-spacing:-1.08px;transform:scaleX(0.9883);margin-right:-1.5px">CCM2,</span> <span class="x" style="letter-spacing:-1.08px;transform:scaleX(0.9520);margin-right:-7.38px">CCND2,</span> <span class="x" style="letter-spacing:-1.08px;transform:scaleX(0.9440);margin-right:-10.16px">CDKN1C,</span> <span class="x" style="letter-spacing:-1.08px;transform:scaleX(0.9296);margin-right:-10.31px">FGFR1,</span> <span class="x" style="letter-spacing:-1.08px;transform:scaleX(0.9296);margin-right:-10.31px">FGFR2,</span> <span class="x" style="letter-spacing:-1.08px;transform:scaleX(0.9296);margin-right:-10.31px">FGFR3,</span> <span class="x" style="letter-spacing:-1.08px;transform:scaleX(0.9780);margin-right:-2.28px">FLT4,</span> <span style="letter-spacing:-0.47px">GLMN,</span> <span style="letter-spacing:-0.67px">GNA14,</span></i></div>
<div class="t" style="left:1471.7px;top:871px;font-size:43.02px;word-spacing:-0.26px"><i><span class="x" style="letter-spacing:-1.08px;transform:scaleX(0.9274);margin-right:-9.15px">HRAS,</span> <span style="letter-spacing:-0.52px">IDH1,</span> <span style="letter-spacing:-0.52px">IDH2,</span> <span class="x" style="letter-spacing:-1.08px;transform:scaleX(0.9355);margin-right:-6.35px">KDR,</span> <span class="x" style="letter-spacing:-1.08px;transform:scaleX(0.9052);margin-right:-11.73px">KRAS,</span> <span class="x" style="letter-spacing:-1.08px;transform:scaleX(0.9598);margin-right:-5.13px">KRIT1,</span> <span style="letter-spacing:-0.47px">MAP2K1,</span> <span style="letter-spacing:-0.47px">MAP3K3,</span> <span class="x" style="letter-spacing:-1.08px;transform:scaleX(0.9355);margin-right:-8.14px">NRAS,</span> <span class="x" style="letter-spacing:-1.08px;transform:scaleX(0.9696);margin-right:-5.3px">PDCD10,</span> <span class="x" style="letter-spacing:-1.08px;transform:scaleX(0.9688);margin-right:-4.77px">PIK3R1,</span> <span class="x" style="letter-spacing:-1.08px;transform:scaleX(0.9403);margin-right:-7.25px">PTEN,</span> <span class="x" style="letter-spacing:-1.08px;transform:scaleX(0.9486);margin-right:-7.53px">RASA1,</span></i></div>
<div class="t" style="left:1471.7px;top:928px;font-size:43.02px;word-spacing:-1.14px"><i><span style="letter-spacing:-1.06px">SMO,</span> <span style="letter-spacing:-0.58px">STAMBP,</span> <span class="x" style="letter-spacing:-1.08px;transform:scaleX(0.8884);margin-right:-8.98px">TEK</span></i></div>
<div class="t" style="left:1471.7px;top:986px;font-size:43.02px;word-spacing:3.73px"><b><span style="letter-spacing:0.42px">Variant</span> <span style="letter-spacing:-0.8px">Reporting</span></b><span style="letter-spacing:0.84px">:</span> Somatic <span style="letter-spacing:0.53px">variants</span> <span style="letter-spacing:1.42px">identified</span> <span style="letter-spacing:1.3px">in</span> <span style="letter-spacing:0.15px">tissue</span> <span style="letter-spacing:-0.27px">samples</span> <span style="letter-spacing:1.29px">were</span> <span style="letter-spacing:1.22px">confirmed</span> <span style="letter-spacing:1.3px">in</span> <span style="letter-spacing:-1.03px">a</span> <span style="letter-spacing:-0.1px">second</span></div>
<div class="t" style="left:1471.7px;top:1043px;font-size:43.02px;word-spacing:8.15px"><span style="letter-spacing:0.54px">isolate.</span> <span style="letter-spacing:1.22px">Variant</span> <span style="letter-spacing:0.32px">classification</span> <span style="letter-spacing:-0.24px">was</span> <span style="letter-spacing:-0.32px">based</span> <span style="letter-spacing:1.23px">on</span> <span style="letter-spacing:1.7px">the</span> <span style="letter-spacing:0.47px">American</span> <span style="letter-spacing:-0.45px">College</span> <span style="letter-spacing:1.96px">of</span> <span style="letter-spacing:0.94px">Medical</span> <span style="letter-spacing:-0.13px">Genetics</span> <span style="letter-spacing:0.45px">and</span></div>
<div class="t" style="left:1471.7px;top:1101px;font-size:43.02px;word-spacing:9.51px"><span style="letter-spacing:-0.17px">Genomics</span> <span style="letter-spacing:0.31px">guidelines.</span> <span style="letter-spacing:0.11px">Diagnostic</span> <span style="letter-spacing:0.8px">yield</span> <span style="letter-spacing:-0.24px">was</span> <span style="letter-spacing:0.45px">calculated</span> <span class="x" style="letter-spacing:-1.08px;transform:scaleX(0.9609);margin-right:-1.69px">as</span> <span style="letter-spacing:1.7px">the</span> <span style="letter-spacing:1.31px">rate</span> <span style="letter-spacing:1.96px">of</span> <span style="letter-spacing:0.64px">pathogenic</span> <span style="letter-spacing:0.45px">and</span> <span style="letter-spacing:0.74px">likely</span></div>
<div class="t" style="left:1471.7px;top:1159px;font-size:43.02px;word-spacing:-1.14px"><span style="letter-spacing:0.64px">pathogenic</span> <span style="letter-spacing:0.48px">variants.</span></div>
<div class="t" style="left:3450.83px;top:753px;font-size:41.58px;word-spacing:-1.11px"><b><span style="letter-spacing:0.33px">Total</span> <span class="x" style="letter-spacing:-1.04px;transform:scaleX(0.9150);margin-right:-9.97px">Cases</span></b></div>
<div class="t" style="left:3836.88px;top:753px;font-size:41.58px;word-spacing:-1.11px"><span style="letter-spacing:0.29px">317</span></div>
<div class="t" style="left:3571.3px;top:820px;font-size:41.58px;word-spacing:-1.11px"><span style="letter-spacing:1.27px">Male</span></div>
<div class="t" style="left:3760.2px;top:820px;font-size:41.58px;word-spacing:-1.11px"><span style="letter-spacing:0.29px">143</span> <span style="letter-spacing:-0.38px">(45.1%)</span></div>
<div class="t" style="left:3464.16px;top:926px;font-size:41.58px;word-spacing:-1.11px"><b><span class="x" style="letter-spacing:-1.04px;transform:scaleX(0.9695);margin-right:-2.3px">Age</span> <span class="x" style="letter-spacing:-1.04px;transform:scaleX(0.9743);margin-right:-3.13px">Range</span></b></div>
<div class="t" style="left:3730.33px;top:926px;font-size:41.58px;word-spacing:-1.11px"><span style="letter-spacing:0.33px">Prenatal</span> <span style="letter-spacing:-0.11px">–</span> <span style="letter-spacing:0.24px">64.2</span></div>
<div class="t" style="left:3522.77px;top:994px;font-size:41.58px;word-spacing:-1.11px"><span style="letter-spacing:1.23px">Median</span></div>
<div class="t" style="left:3773.43px;top:994px;font-size:41.58px;word-spacing:-1.11px"><span style="letter-spacing:0.22px">7.6</span> <span style="letter-spacing:-0.17px">(years)</span></div>
<div class="t" style="left:3557.62px;top:1061px;font-size:41.58px;word-spacing:-1.11px"><span style="letter-spacing:1.21px">Mean</span></div>
<div class="t" style="left:3773.43px;top:1061px;font-size:41.58px;word-spacing:-1.11px"><span style="letter-spacing:0.22px">9.1</span> <span style="letter-spacing:-0.17px">(years)</span></div>
<div class="t" style="left:93.6px;top:2182px;font-size:33.48px;word-spacing:2.17px"><b><span class="x" style="letter-spacing:-0.84px;transform:scaleX(0.9843);margin-right:-1.52px">Figure</span> <span style="letter-spacing:0.23px">1</span></b><span style="letter-spacing:0.64px">:</span> <span style="letter-spacing:-0.8px">A</span> <span style="letter-spacing:1.52px">total</span> <span style="letter-spacing:1.52px">of</span> <span style="letter-spacing:0.23px">317</span> <span class="x" style="letter-spacing:-0.84px;transform:scaleX(0.9746);margin-right:-2.11px">cases</span> <span style="letter-spacing:1px">were</span> <span style="letter-spacing:1.08px">submitted</span> <span style="letter-spacing:1.62px">for</span> <span style="letter-spacing:0.71px">testing</span> <span style="letter-spacing:0.21px">(143</span> <span style="letter-spacing:-0.03px">males,</span> <span style="letter-spacing:0.23px">174</span> <span style="letter-spacing:0.22px">females,</span></div>
<div class="t" style="left:93.6px;top:2227px;font-size:33.48px;word-spacing:2.61px"><span style="letter-spacing:0.35px">and</span> <span style="letter-spacing:0.23px">2</span> <span style="letter-spacing:0.7px">prenatal)</span> <span style="letter-spacing:1.9px">with</span> <span style="letter-spacing:-0.8px">a</span> <span style="letter-spacing:0.77px">broad</span> <span style="letter-spacing:0.67px">spectrum</span> <span style="letter-spacing:1.52px">of</span> <span style="letter-spacing:0.31px">clinical</span> <span style="letter-spacing:0.55px">presentations.</span> <span style="letter-spacing:0.25px">Overall</span> <span style="letter-spacing:0.31px">diagnostic</span></div>
<div class="t" style="left:93.6px;top:2272px;font-size:33.48px;word-spacing:9.67px"><span style="letter-spacing:0.62px">yield</span> <span style="letter-spacing:1.52px">of</span> <span style="letter-spacing:1.32px">the</span> <span style="letter-spacing:0.26px">expanded</span> <span style="letter-spacing:0.41px">panel</span> <span style="letter-spacing:-0.19px">was</span> <span style="letter-spacing:-0.48px">56.7%</span> <span style="letter-spacing:0.68px">(181/319).</span> <span style="letter-spacing:0.32px">Of</span> <span style="letter-spacing:1.32px">the</span> <span style="letter-spacing:0.23px">46</span> <span class="x" style="letter-spacing:-0.84px;transform:scaleX(0.9746);margin-right:-2.11px">cases</span> <span style="letter-spacing:1.61px">that</span> <span style="letter-spacing:0.78px">only</span></div>
<div class="t" style="left:93.6px;top:2317px;font-size:33.48px;word-spacing:9.97px"><span style="letter-spacing:0.83px">provided</span> <span style="letter-spacing:-0.8px">a</span> <span style="letter-spacing:0.68px">germline</span> <span style="letter-spacing:0.12px">sample</span> <span style="letter-spacing:1.62px">for</span> <span style="letter-spacing:0.61px">testing,</span> <span style="letter-spacing:0.78px">only</span> <span class="x" style="letter-spacing:-0.84px;transform:scaleX(0.9729);margin-right:-1.26px">6%</span> <span style="letter-spacing:-0.14px">(N=3)</span> <span style="letter-spacing:0.69px">resulted</span> <span style="letter-spacing:1.01px">in</span> <span style="letter-spacing:-0.8px">a</span> <span style="letter-spacing:0.37px">clinically</span></div>
<div class="t" style="left:93.6px;top:2361px;font-size:33.48px;word-spacing:7.94px"><span style="letter-spacing:0.48px">significant</span> <span style="letter-spacing:0.69px">result.</span> <span style="letter-spacing:-0.8px">A</span> <span style="letter-spacing:0.76px">variety</span> <span style="letter-spacing:1.52px">of</span> <span style="letter-spacing:0.12px">sample</span> <span style="letter-spacing:0.38px">types</span> <span style="letter-spacing:1px">were</span> <span style="letter-spacing:0.83px">provided</span> <span style="letter-spacing:1.62px">for</span> <span style="letter-spacing:0.85px">affected</span> <span style="letter-spacing:0.12px">sample</span></div>
<div class="t" style="left:93.6px;top:2406px;font-size:33.48px;word-spacing:-0.89px"><span style="letter-spacing:0.71px">testing</span> <span style="letter-spacing:-0.57px">(see</span> <span style="letter-spacing:0.86px">table</span> <span style="letter-spacing:0.79px">below).</span></div>
<div class="t" style="left:93.6px;top:3144px;font-size:33.48px;word-spacing:4.42px"><b><span class="x" style="letter-spacing:-0.84px;transform:scaleX(0.9843);margin-right:-1.52px">Figure</span> <span style="letter-spacing:-0.33px">2:</span></b> <span style="letter-spacing:0.42px">Histogram</span> <span style="letter-spacing:1.52px">of</span> <span style="letter-spacing:1.18px">reported</span> <span style="letter-spacing:0.78px">variant</span> <span style="letter-spacing:0.38px">allele</span> <span style="letter-spacing:0.67px">fractions</span> <span style="letter-spacing:-0.68px">(VAFs).</span> <span class="x" style="letter-spacing:-0.84px;transform:scaleX(0.9770);margin-right:-1.75px">VAFs</span> <span style="letter-spacing:0.28px">ranged</span> <span style="letter-spacing:1.68px">from</span></div>
<div class="t" style="left:93.6px;top:3188px;font-size:33.48px;word-spacing:4.61px"><span style="letter-spacing:-0.66px">0.5%</span> <span style="letter-spacing:2.08px">to</span> <span class="x" style="letter-spacing:-0.84px;transform:scaleX(0.9968);margin-right:-0.21px">63%</span> <span style="letter-spacing:0.09px">(mean=11.4%,</span> <span style="letter-spacing:0.03px">median=6.3%).</span> <span style="letter-spacing:-0.18px">For</span> <span class="x" style="letter-spacing:-0.84px;transform:scaleX(0.9746);margin-right:-2.11px">cases</span> <span style="letter-spacing:1.9px">with</span> <span style="letter-spacing:0.41px">variants</span> <span style="letter-spacing:1.1px">identified</span> <span style="letter-spacing:1.01px">in</span> <span style="letter-spacing:-0.8px">a</span></div>
<div class="t" style="left:93.6px;top:3233px;font-size:33.48px;word-spacing:12.91px"><span style="letter-spacing:0.37px">genomic</span> <span style="letter-spacing:0.12px">sample</span> <span style="letter-spacing:0.72px">(blood,</span> <span style="letter-spacing:-0.22px">saliva,</span> <span style="letter-spacing:1.41px">or</span> <span style="letter-spacing:0.04px">buccal)</span> <span style="letter-spacing:1.32px">the</span> <span style="letter-spacing:-0.15px">average</span> <span style="letter-spacing:0.78px">variant</span> <span style="letter-spacing:0.38px">allele</span> <span style="letter-spacing:1.03px">fraction</span></div>
<div class="t" style="left:93.6px;top:3278px;font-size:33.48px;word-spacing:7.19px"><span style="letter-spacing:0.06px">increased</span> <span style="letter-spacing:2.08px">to</span> <span style="letter-spacing:-0.48px">23.5%</span> <span style="letter-spacing:0.05px">(median=17.1%).</span> <span style="letter-spacing:0.56px">Variants</span> <span style="letter-spacing:1.9px">with</span> <span style="letter-spacing:0.06px">an</span> <span style="letter-spacing:0.38px">allele</span> <span style="letter-spacing:1.03px">fraction</span> <span style="letter-spacing:0.21px">above</span> <span class="x" style="letter-spacing:-0.84px;transform:scaleX(0.9968);margin-right:-0.21px">40%</span></div>
<div class="t" style="left:93.6px;top:3322px;font-size:33.48px;word-spacing:9.05px"><span style="letter-spacing:1px">were</span> <span style="letter-spacing:1.1px">identified</span> <span style="letter-spacing:1.01px">in</span> <span style="letter-spacing:0.23px">13</span> <span class="x" style="letter-spacing:-0.84px;transform:scaleX(0.9746);margin-right:-2.11px">cases</span> <span style="letter-spacing:0.18px">(3</span> <span class="x" style="letter-spacing:-0.84px;transform:scaleX(0.9885);margin-right:-0.79px">P/LP</span> <span style="letter-spacing:1.01px">in</span> <i><span class="x" style="letter-spacing:-0.84px;transform:scaleX(0.9249);margin-right:-6.45px">PTEN</span></i><span style="letter-spacing:-0.03px">,</span> <span style="letter-spacing:0.23px">10</span> <span class="x" style="letter-spacing:-0.84px;transform:scaleX(0.9710);margin-right:-2.47px">VUS),</span> <span style="letter-spacing:0.46px">all</span> <span style="letter-spacing:1.36px">other</span> <span style="letter-spacing:0.41px">variants</span> <span style="letter-spacing:1px">were</span></div>
<div class="t" style="left:93.6px;top:3367px;font-size:33.48px;word-spacing:-0.89px"><span style="letter-spacing:1.18px">reported</span> <span class="x" style="letter-spacing:-0.84px;transform:scaleX(0.9606);margin-right:-1.33px">as</span> <span style="letter-spacing:0.58px">likely</span> <span style="letter-spacing:0.4px">somatic.</span></div>
<div class="t" style="left:1472px;top:2262px;font-size:33.48px;word-spacing:-0.67px"><b><span class="x" style="letter-spacing:-0.84px;transform:scaleX(0.9843);margin-right:-1.52px">Figure</span> <span style="letter-spacing:0.23px">3</span></b><span style="letter-spacing:0.64px">:</span> <span style="letter-spacing:0.58px">Unique</span> <span style="letter-spacing:0.41px">variants</span> <span style="letter-spacing:1.1px">identified</span> <span style="letter-spacing:1.01px">in</span> <span style="letter-spacing:0.46px">all</span> <span class="x" style="letter-spacing:-0.84px;transform:scaleX(0.9871);margin-right:-1.18px">cases.</span> <span style="letter-spacing:0.99px">We</span> <span style="letter-spacing:1.1px">identified</span> <span style="letter-spacing:0.23px">94</span> <span style="letter-spacing:0.78px">unique</span> <span style="letter-spacing:0.41px">variants</span> <span style="letter-spacing:0.2px">(75</span></div>
<div class="t" style="left:1472px;top:2307px;font-size:33.48px;word-spacing:-0.07px"><span style="letter-spacing:0.03px">P/LP,</span> <span style="letter-spacing:0.35px">and</span> <span style="letter-spacing:0.23px">19</span> <span class="x" style="letter-spacing:-0.84px;transform:scaleX(0.9570);margin-right:-3.29px">VUS)</span> <span style="letter-spacing:-0.56px">across</span> <span style="letter-spacing:0.23px">218</span> <span style="letter-spacing:1.52px">total</span> <span style="letter-spacing:0.78px">variant</span> <span style="letter-spacing:-0.36px">calls</span> <span style="letter-spacing:1.62px">for</span> <span style="letter-spacing:0.23px">201</span> <span class="x" style="letter-spacing:-0.84px;transform:scaleX(0.9871);margin-right:-1.18px">cases.</span> <span style="letter-spacing:0.23px">69</span> <span style="letter-spacing:1.52px">of</span> <span style="letter-spacing:1.32px">the</span> <span style="letter-spacing:0.23px">218</span> <span style="letter-spacing:0.41px">variants</span></div>
<div class="t" style="left:1472px;top:2351px;font-size:33.48px;word-spacing:1.53px"><span style="letter-spacing:1px">were</span> <span style="letter-spacing:1.01px">in</span> <span style="letter-spacing:-0.52px">genes</span> <span style="letter-spacing:0.96px">on</span> <span style="letter-spacing:1.32px">the</span> <span style="letter-spacing:0.26px">expanded</span> <span style="letter-spacing:0.41px">panel</span> <span style="letter-spacing:0.41px">accounting</span> <span style="letter-spacing:1.62px">for</span> <span style="letter-spacing:-0.48px">27.8%</span> <span style="letter-spacing:1.52px">of</span> <span style="letter-spacing:0.36px">results</span> <span style="letter-spacing:1.18px">reported</span> <span style="letter-spacing:0.2px">(49</span></div>
<div class="t" style="left:1472px;top:2396px;font-size:33.48px;word-spacing:-0.89px"><span style="letter-spacing:0.03px">P/LP,</span> <span style="letter-spacing:0.23px">20</span> <span class="x" style="letter-spacing:-0.84px;transform:scaleX(0.9722);margin-right:-2.36px">VUS).</span></div>
<div class="t" style="left:1472px;top:3144px;font-size:33.48px;word-spacing:4.88px"><b><span class="x" style="letter-spacing:-0.84px;transform:scaleX(0.9843);margin-right:-1.52px">Figure</span> <span style="letter-spacing:0.23px">4</span></b><span style="letter-spacing:0.64px">:</span> <span style="letter-spacing:0.1px">Diagram</span> <span style="letter-spacing:1.52px">of</span> <span style="letter-spacing:1.32px">the</span> <span style="letter-spacing:0.81px">location</span> <span style="letter-spacing:1.52px">of</span> <span style="letter-spacing:0.46px">all</span> <span style="letter-spacing:1.18px">reported</span> <i><span class="x" style="letter-spacing:-0.84px;transform:scaleX(0.9444);margin-right:-6.34px">PIK3CA</span></i> <span style="letter-spacing:0.41px">variants</span> <span style="letter-spacing:1.01px">in</span> <span style="letter-spacing:0.57px">reference</span> <span style="letter-spacing:2.08px">to</span></div>
<div class="t" style="left:1472px;top:3188px;font-size:33.48px;word-spacing:1.35px"><span class="x" style="letter-spacing:-0.84px;transform:scaleX(0.9480);margin-right:-5.93px">PIK3CA</span> <span style="letter-spacing:1.26px">protein</span> <span style="letter-spacing:0.36px">domains.</span> <i><span class="x" style="letter-spacing:-0.84px;transform:scaleX(0.9444);margin-right:-6.34px">PIK3CA</span></i> <span style="letter-spacing:0.41px">variants</span> <span style="letter-spacing:0.44px">accounted</span> <span style="letter-spacing:1.62px">for</span> <span style="letter-spacing:-0.48px">56.9%</span> <span style="letter-spacing:-0.03px">(N=124)</span> <span style="letter-spacing:1.52px">of</span> <span style="letter-spacing:1.18px">reported</span></div>
<div class="t" style="left:1472px;top:3233px;font-size:33.48px;word-spacing:4.08px"><span style="letter-spacing:0.37px">variants.</span> <span style="letter-spacing:-0.62px">This</span> <span style="letter-spacing:0.6px">included</span> <span style="letter-spacing:1.14px">hotspot</span> <span style="letter-spacing:0.41px">variants</span> <span class="x" style="letter-spacing:-0.84px;transform:scaleX(0.9957);margin-right:-0.5px">(E542K,</span> <span class="x" style="letter-spacing:-0.84px;transform:scaleX(0.9860);margin-right:-1.46px">E545K,</span> <span style="letter-spacing:0.35px">and</span> <span style="letter-spacing:-0.56px">H1047R)</span> <span style="letter-spacing:0.35px">and</span> <span style="letter-spacing:0.41px">variants</span></div>
<div class="t" style="left:1472px;top:3278px;font-size:33.48px;word-spacing:2.66px"><span style="letter-spacing:1.69px">not</span> <span style="letter-spacing:1.05px">yet</span> <span style="letter-spacing:1.06px">reported.</span> <span style="letter-spacing:-0.5px">The</span> <span style="letter-spacing:-0.81px">size</span> <span style="letter-spacing:1.52px">of</span> <span style="letter-spacing:-0.25px">each</span> <span style="letter-spacing:0.62px">data</span> <span style="letter-spacing:1.42px">point</span> <span style="letter-spacing:0.26px">corresponds</span> <span style="letter-spacing:2.08px">to</span> <span style="letter-spacing:1.32px">the</span> <span style="letter-spacing:1.05px">number</span> <span style="letter-spacing:1.52px">of</span> <span class="x" style="letter-spacing:-0.84px;transform:scaleX(0.9746);margin-right:-2.11px">cases</span></div>
<div class="t" style="left:1472px;top:3322px;font-size:33.48px;word-spacing:7.83px"><span style="letter-spacing:1.9px">with</span> <span style="letter-spacing:0.75px">this</span> <span style="letter-spacing:0.68px">variant,</span> <span style="letter-spacing:1.32px">the</span> <span style="letter-spacing:0.78px">color</span> <span style="letter-spacing:0.26px">corresponds</span> <span style="letter-spacing:2.08px">to</span> <span style="letter-spacing:1.32px">the</span> <span style="letter-spacing:0.25px">classification</span> <span style="letter-spacing:0.69px">(red</span> <span style="letter-spacing:-0.09px">–</span> <span style="letter-spacing:0.09px">Pathogenic,</span></div>
<div class="t" style="left:1472px;top:3367px;font-size:33.48px;word-spacing:-0.89px"><span style="letter-spacing:0.93px">yellow</span> <span style="letter-spacing:-0.09px">–</span> <span style="letter-spacing:-0.1px">Likely</span> <span style="letter-spacing:0.09px">Pathogenic,</span> <span style="letter-spacing:0.18px">grey</span> <span style="letter-spacing:-0.09px">–</span> <span class="x" style="letter-spacing:-0.84px;transform:scaleX(0.9722);margin-right:-2.36px">VUS).</span></div>
<div class="t" style="left:2848.3px;top:2080px;font-size:33.48px;word-spacing:3.1px"><b><span class="x" style="letter-spacing:-0.84px;transform:scaleX(0.9843);margin-right:-1.52px">Figure</span> <span style="letter-spacing:0.23px">5</span></b><span style="letter-spacing:0.64px">:</span> <span style="letter-spacing:0.1px">Diagram</span> <span style="letter-spacing:1.52px">of</span> <span style="letter-spacing:1.32px">the</span> <span style="letter-spacing:0.81px">location</span> <span style="letter-spacing:1.52px">of</span> <span style="letter-spacing:0.46px">all</span> <span style="letter-spacing:1.18px">reported</span> <i><span class="x" style="letter-spacing:-0.84px;transform:scaleX(0.8886);margin-right:-6.97px">TEK</span></i> <span style="letter-spacing:0.41px">variants</span> <span style="letter-spacing:1.01px">in</span> <span style="letter-spacing:0.57px">reference</span> <span style="letter-spacing:2.08px">to</span> <span class="x" style="letter-spacing:-0.84px;transform:scaleX(0.9578);margin-right:-2.84px">TIE2</span></div>
<div class="t" style="left:2848.3px;top:2125px;font-size:33.48px;word-spacing:2.06px"><span style="letter-spacing:1.26px">protein</span> <span style="letter-spacing:0.4px">domains</span> <span style="letter-spacing:1.42px">(bottom)</span> <span style="letter-spacing:0.35px">and</span> <span style="letter-spacing:-0.8px">a</span> <span style="letter-spacing:0.86px">table</span> <span style="letter-spacing:1.52px">of</span> <i><span class="x" style="letter-spacing:-0.84px;transform:scaleX(0.8886);margin-right:-6.97px">TEK</span></i> <span style="letter-spacing:0.41px">variants</span> <span style="letter-spacing:1.1px">identified</span> <span style="letter-spacing:0.9px">(top).</span> <i><span class="x" style="letter-spacing:-0.84px;transform:scaleX(0.8886);margin-right:-6.97px">TEK</span></i> <span style="letter-spacing:0.41px">variants</span></div>
<div class="t" style="left:2848.3px;top:2170px;font-size:33.48px;word-spacing:9.12px"><span style="letter-spacing:0.44px">accounted</span> <span style="letter-spacing:1.62px">for</span> <span style="letter-spacing:-0.48px">16.1%</span> <span style="letter-spacing:-0.08px">(N=35)</span> <span style="letter-spacing:1.52px">of</span> <span style="letter-spacing:1.18px">reported</span> <span style="letter-spacing:0.37px">variants.</span> <span style="letter-spacing:-0.5px">The</span> <span style="letter-spacing:-0.81px">size</span> <span style="letter-spacing:1.52px">of</span> <span style="letter-spacing:-0.25px">each</span> <span style="letter-spacing:0.62px">data</span> <span style="letter-spacing:1.42px">point</span></div>
<div class="t" style="left:2848.3px;top:2214px;font-size:33.48px;word-spacing:1.49px"><span style="letter-spacing:0.26px">corresponds</span> <span style="letter-spacing:2.08px">to</span> <span style="letter-spacing:1.32px">the</span> <span style="letter-spacing:1.05px">number</span> <span style="letter-spacing:1.52px">of</span> <span class="x" style="letter-spacing:-0.84px;transform:scaleX(0.9746);margin-right:-2.11px">cases</span> <span style="letter-spacing:1.9px">with</span> <span style="letter-spacing:0.75px">this</span> <span style="letter-spacing:0.68px">variant,</span> <span style="letter-spacing:1.32px">the</span> <span style="letter-spacing:0.78px">color</span> <span style="letter-spacing:0.26px">corresponds</span> <span style="letter-spacing:2.08px">to</span> <span style="letter-spacing:1.32px">the</span></div>
<div class="t" style="left:2848.3px;top:2259px;font-size:33.48px;word-spacing:-0.89px"><span style="letter-spacing:0.25px">classification</span> <span style="letter-spacing:0.69px">(red</span> <span style="letter-spacing:-0.09px">–</span> <span style="letter-spacing:0.09px">Pathogenic,</span> <span style="letter-spacing:0.93px">yellow</span> <span style="letter-spacing:-0.09px">–</span> <span style="letter-spacing:-0.1px">Likely</span> <span style="letter-spacing:0.09px">Pathogenic,</span> <span style="letter-spacing:0.18px">grey</span> <span style="letter-spacing:-0.09px">–</span> <span class="x" style="letter-spacing:-0.84px;transform:scaleX(0.9722);margin-right:-2.36px">VUS).</span></div>
<div class="t" style="left:2848.3px;top:2318px;font-size:33.48px;word-spacing:-0.97px"><span style="letter-spacing:0.32px">Of</span> <span style="letter-spacing:0.99px">note,</span> <span style="letter-spacing:0.23px">2</span> <i><span class="x" style="letter-spacing:-0.84px;transform:scaleX(0.8886);margin-right:-6.97px">TEK</span></i> <span style="letter-spacing:0.41px">variants</span> <span style="letter-spacing:1px">were</span> <span style="letter-spacing:1.1px">identified</span> <span style="letter-spacing:1.01px">in</span> <span style="letter-spacing:0.23px">10</span> <span class="x" style="letter-spacing:-0.84px;transform:scaleX(0.9859);margin-right:-1.29px">cases,</span> <span style="letter-spacing:0.23px">7</span> <span style="letter-spacing:1.52px">of</span> <span style="letter-spacing:0.87px">which</span> <span style="letter-spacing:1px">were</span> <span style="letter-spacing:0.85px">detected</span> <span style="letter-spacing:1.01px">in</span> <i><span style="letter-spacing:-0.81px">cis</span></i> <span style="letter-spacing:1.01px">in</span></div>
<div class="t" style="left:2848.3px;top:2363px;font-size:33.48px;word-spacing:2.58px"><span style="letter-spacing:0.3px">exon</span> <span style="letter-spacing:0.19px">17.</span> <span style="letter-spacing:0.42px">Double</span> <span style="letter-spacing:-0.7px">cis</span> <span style="letter-spacing:0.58px">activating</span> <span style="letter-spacing:0.41px">variants</span> <span style="letter-spacing:1.6px">within</span> <span style="letter-spacing:1.32px">the</span> <span style="letter-spacing:1.26px">protein</span> <span style="letter-spacing:-0.15px">kinase</span> <span style="letter-spacing:0.83px">domain</span> <span style="letter-spacing:0.3px">are</span> <span style="letter-spacing:1.13px">more</span></div>
<div class="t" style="left:2848.3px;top:2408px;font-size:33.48px;word-spacing:4.46px"><span style="letter-spacing:0.58px">likely</span> <span style="letter-spacing:2.08px">to</span> <span style="letter-spacing:0.41px">be</span> <span style="letter-spacing:-0.09px">associated</span> <span style="letter-spacing:1.9px">with</span> <span style="letter-spacing:0.71px">blue</span> <span style="letter-spacing:1.05px">rubber</span> <span style="letter-spacing:0.71px">bleb</span> <span style="letter-spacing:-0.08px">nevus</span> <span style="letter-spacing:0.54px">syndrome</span> <span class="x" style="letter-spacing:-0.84px;transform:scaleX(0.9821);margin-right:-2.13px">(BRBN).</span> <span style="letter-spacing:0.4px">Functional</span></div>
<div class="t" style="left:2848.3px;top:2452px;font-size:33.48px;word-spacing:5.37px"><span style="letter-spacing:0.23px">studies</span> <span style="letter-spacing:0.54px">show</span> <span style="letter-spacing:1.61px">that</span> <span style="letter-spacing:1.32px">the</span> <span style="letter-spacing:0.79px">double</span> <span style="letter-spacing:-0.7px">cis</span> <span style="letter-spacing:0.58px">activating</span> <span style="letter-spacing:0.41px">variants</span> have <span style="letter-spacing:0.06px">an</span> <span style="letter-spacing:0.79px">additive</span> <span style="letter-spacing:1.1px">effect</span> <span style="letter-spacing:0.69px">over</span></div>
<div class="t" style="left:2848.3px;top:2497px;font-size:33.48px;word-spacing:-0.89px"><span style="letter-spacing:-0.05px">single</span> <span style="letter-spacing:0.41px">variants</span> <span style="letter-spacing:1.01px">in</span> <span style="letter-spacing:0.47px">inducing</span> <span style="letter-spacing:-0.11px">vascular</span> <span style="letter-spacing:0.92px">malformations</span> <span style="letter-spacing:0.14px">(Soblet</span> <span style="letter-spacing:0.18px">2017,</span> <span style="letter-spacing:0.05px">PMID:</span> <span style="letter-spacing:0.22px">34254124)</span></div>
<div class="t" style="left:2909.7px;top:2701px;font-size:43.02px;word-spacing:20.43px"><span style="letter-spacing:-0.65px">The</span> <span style="letter-spacing:0.16px">expansion</span> <span style="letter-spacing:1.96px">of</span> <span style="letter-spacing:1.6px">our</span> <span style="letter-spacing:0.57px">somatic</span> <span style="letter-spacing:1.41px">overgrowth</span> <span style="letter-spacing:0.45px">and</span> <span style="letter-spacing:-0.14px">vascular</span></div>
<div class="t" style="left:2909.7px;top:2758px;font-size:43.02px;word-spacing:9.16px"><span style="letter-spacing:1.52px">malformation</span> <span style="letter-spacing:0.53px">panel</span> <span style="letter-spacing:-0.89px">has</span> <span style="letter-spacing:0.08px">increased</span> <span style="letter-spacing:1.6px">our</span> <span style="letter-spacing:0.4px">diagnostic</span> <span style="letter-spacing:0.73px">sensitivity</span></div>
<div class="t" style="left:2909.7px;top:2816px;font-size:43.02px;word-spacing:-1.14px"><span style="letter-spacing:2.09px">for</span> <span style="letter-spacing:0.57px">somatic</span> <span style="letter-spacing:-0.14px">vascular</span> <span style="letter-spacing:1.19px">malformations</span> <span style="letter-spacing:0.45px">and</span> <span style="letter-spacing:1.41px">overgrowth</span> <span style="letter-spacing:0.41px">disorders.</span></div>
<div class="t" style="left:2909.7px;top:2873px;font-size:43.02px;word-spacing:9.15px"><span style="letter-spacing:0.11px">Diagnostic</span> <span style="letter-spacing:0.46px">results</span> <span style="letter-spacing:1.29px">were</span> <span style="letter-spacing:1.46px">more</span> <span style="letter-spacing:1.8px">often</span> <span style="letter-spacing:1.42px">identified</span> <span style="letter-spacing:1.3px">in</span> <span class="x" style="letter-spacing:-1.08px;transform:scaleX(0.9746);margin-right:-2.72px">cases</span> <span style="letter-spacing:2.07px">that</span></div>
<div class="t" style="left:2909.7px;top:2931px;font-size:43.02px;word-spacing:-1.14px"><span style="letter-spacing:1.39px">submitted</span> <span style="letter-spacing:1.52px">at</span> <span style="letter-spacing:0.3px">least</span> <span style="letter-spacing:0.78px">one</span> <span style="letter-spacing:1.09px">affected</span> <span style="letter-spacing:0.15px">tissue</span> <span style="letter-spacing:0.16px">sample</span> <span style="letter-spacing:2.09px">for</span> <span style="letter-spacing:0.81px">testing.</span></div>
<div class="t" style="left:2909.7px;top:2988px;font-size:43.02px;word-spacing:0.02px"><span style="letter-spacing:0.95px">Unaffected</span> <span style="letter-spacing:0.15px">tissue</span> <span style="letter-spacing:1.29px">were</span> <span style="letter-spacing:2.17px">not</span> <span style="letter-spacing:1.7px">the</span> <span style="letter-spacing:1.22px">most</span> <span style="letter-spacing:1.52px">optimal</span> <span style="letter-spacing:0.88px">germline</span> <span style="letter-spacing:0.16px">sample</span></div>
<div class="t" style="left:2909.7px;top:3046px;font-size:43.02px;word-spacing:13.74px"><span class="x" style="letter-spacing:-1.08px;transform:scaleX(0.9609);margin-right:-1.69px">as</span> <span style="letter-spacing:1.7px">the</span> <span style="letter-spacing:1.42px">identified</span> <span style="letter-spacing:1px">variant</span> <span style="letter-spacing:0.48px">may</span> <span style="letter-spacing:0.52px">be</span> <span style="letter-spacing:0.81px">present</span> <span style="letter-spacing:1.52px">at</span> <span style="letter-spacing:0.59px">low-levels</span> <span style="letter-spacing:1.96px">of</span></div>
<div class="t" style="left:2909.7px;top:3104px;font-size:43.02px;word-spacing:-1.14px"><span style="letter-spacing:0.1px">mosaicism.</span></div>
<div class="t" style="left:2847.9px;top:2695px;font-size:51.39px;word-spacing:-1.36px"><span style="letter-spacing:10.44px">•</span></div>
<div class="t" style="left:2847.9px;top:2867px;font-size:51.39px;word-spacing:-1.36px"><span style="letter-spacing:10.44px">•</span></div>
<div class="t" style="left:2847.9px;top:2982px;font-size:51.39px;word-spacing:-1.36px"><span style="letter-spacing:10.44px">•</span></div>
<div class="t" style="left:2882.75px;top:3296px;font-size:33.48px;word-spacing:-0.89px"><span style="letter-spacing:0.57px">University</span> <span style="letter-spacing:1.52px">of</span> <span style="letter-spacing:-0.16px">Pennsylvania</span> <span style="letter-spacing:0.2px">Genetic</span> <span style="letter-spacing:0.09px">Diagnostic</span> <span style="letter-spacing:0.52px">Laboratory</span> <span class="x" style="letter-spacing:-0.84px;transform:scaleX(0.9313);margin-right:-5.39px">(GTR</span> <span style="letter-spacing:0.56px">Test</span> <span style="letter-spacing:-0.19px">ID:</span> <span style="letter-spacing:0.19px">520081),</span></div>
<div class="t" style="left:2865.68px;top:3341px;font-size:33.48px;word-spacing:-0.89px"><span style="letter-spacing:-0.52px">Physicians</span> <span style="letter-spacing:0.35px">and</span> <span style="letter-spacing:0.2px">Genetic</span> <span style="letter-spacing:-0.21px">Counselors</span> <span style="letter-spacing:1.68px">from</span> <span class="x" style="letter-spacing:-0.84px;transform:scaleX(0.9303);margin-right:-6.51px">CHOP</span> <span style="letter-spacing:0.35px">and</span> <span style="letter-spacing:1.36px">other</span> <span style="letter-spacing:0.35px">centers</span> <span style="letter-spacing:1.01px">in</span> <span style="letter-spacing:1.35px">North</span> <span style="letter-spacing:0.29px">America</span></div>
<div class="t" style="left:2003.32px;top:2462px;font-size:64.8px;word-spacing:-1.72px"><b><i><span class="x" style="letter-spacing:-1.62px;transform:scaleX(0.9404);margin-right:-13.58px">PIK3CA</span></i></b></div>
<div class="t" style="left:3432.52px;top:1402px;font-size:64.8px;word-spacing:-1.72px"><b><i><span class="x" style="letter-spacing:-1.62px;transform:scaleX(0.8830);margin-right:-14.59px">TEK</span></i></b></div>
<div class="t" style="left:124.5px;top:1953px;font-size:23.94px;word-spacing:-0.62px;color:#595959"><span class="x" style="letter-spacing:-0.6px;transform:scaleX(0.9727);margin-right:-0.91px">0%</span></div>
<div class="t" style="left:111.03px;top:1896px;font-size:23.94px;word-spacing:-0.62px;color:#595959"><span class="x" style="letter-spacing:-0.6px;transform:scaleX(0.9966);margin-right:-0.16px">10%</span></div>
<div class="t" style="left:111.03px;top:1839px;font-size:23.94px;word-spacing:-0.62px;color:#595959"><span class="x" style="letter-spacing:-0.6px;transform:scaleX(0.9966);margin-right:-0.16px">20%</span></div>
<div class="t" style="left:111.03px;top:1782px;font-size:23.94px;word-spacing:-0.62px;color:#595959"><span class="x" style="letter-spacing:-0.6px;transform:scaleX(0.9966);margin-right:-0.16px">30%</span></div>
<div class="t" style="left:111.03px;top:1725px;font-size:23.94px;word-spacing:-0.62px;color:#595959"><span class="x" style="letter-spacing:-0.6px;transform:scaleX(0.9966);margin-right:-0.16px">40%</span></div>
<div class="t" style="left:111.03px;top:1668px;font-size:23.94px;word-spacing:-0.62px;color:#595959"><span class="x" style="letter-spacing:-0.6px;transform:scaleX(0.9966);margin-right:-0.16px">50%</span></div>
<div class="t" style="left:111.03px;top:1612px;font-size:23.94px;word-spacing:-0.62px;color:#595959"><span class="x" style="letter-spacing:-0.6px;transform:scaleX(0.9966);margin-right:-0.16px">60%</span></div>
<div class="t" style="left:111.03px;top:1555px;font-size:23.94px;word-spacing:-0.62px;color:#595959"><span class="x" style="letter-spacing:-0.6px;transform:scaleX(0.9966);margin-right:-0.16px">70%</span></div>
<div class="t" style="left:111.03px;top:1498px;font-size:23.94px;word-spacing:-0.62px;color:#595959"><span class="x" style="letter-spacing:-0.6px;transform:scaleX(0.9966);margin-right:-0.16px">80%</span></div>
<div class="t" style="left:111.03px;top:1441px;font-size:23.94px;word-spacing:-0.62px;color:#595959"><span class="x" style="letter-spacing:-0.6px;transform:scaleX(0.9966);margin-right:-0.16px">90%</span></div>
<div class="t" style="left:97.55px;top:1384px;font-size:23.94px;word-spacing:-0.62px;color:#595959"><span style="letter-spacing:-0.45px">100%</span></div>
<div class="t" style="left:201.46px;top:1991px;font-size:28.8px;word-spacing:-0.78px;color:#595959"><span style="letter-spacing:0.22px">Overall</span></div>
<div class="t" style="left:197.42px;top:2030px;font-size:28.8px;word-spacing:-0.78px;color:#595959"><span style="letter-spacing:0.11px">(n=317)</span></div>
<div class="t" style="left:449.01px;top:1991px;font-size:28.8px;word-spacing:-0.78px;color:#595959"><span style="letter-spacing:0.43px">Germline</span></div>
<div class="t" style="left:445.52px;top:2030px;font-size:28.8px;word-spacing:-0.78px;color:#595959"><span class="x" style="letter-spacing:-0.72px;transform:scaleX(0.9894);margin-right:-0.17px">+</span> Somatic</div>
<div class="t" style="left:458.73px;top:2069px;font-size:28.8px;word-spacing:-0.78px;color:#595959"><span style="letter-spacing:0.11px">(n=230)</span></div>
<div class="t" style="left:587.76px;top:1991px;font-size:28.8px;word-spacing:-0.78px;color:#595959">Somatic</div>
<div class="t" style="left:597.5px;top:2030px;font-size:28.8px;word-spacing:-0.78px;color:#595959"><span style="letter-spacing:0.09px">(n=41)</span></div>
<div class="t" style="left:710.33px;top:1991px;font-size:28.8px;word-spacing:-0.78px;color:#595959"><span style="letter-spacing:0.43px">Germline</span></div>
<div class="t" style="left:728.15px;top:2030px;font-size:28.8px;word-spacing:-0.78px;color:#595959"><span style="letter-spacing:0.09px">(n=46)</span></div>
<div class="t" style="left:991.41px;top:1991px;font-size:28.8px;word-spacing:-0.78px;color:#595959"><span style="letter-spacing:-0.51px">Tissue</span></div>
<div class="t" style="left:983.93px;top:2030px;font-size:28.8px;word-spacing:-0.78px;color:#595959"><span style="letter-spacing:-0.33px">Sample</span></div>
<div class="t" style="left:981.35px;top:2069px;font-size:28.8px;word-spacing:-0.78px;color:#595959"><span style="letter-spacing:0.11px">(n=254)</span></div>
<div class="t" style="left:1106.1px;top:1991px;font-size:28.8px;word-spacing:-0.78px;color:#595959"><span style="letter-spacing:0.47px">Cultured</span></div>
<div class="t" style="left:1128.23px;top:2030px;font-size:28.8px;word-spacing:-0.78px;color:#595959"><span style="letter-spacing:0.07px">(n=7)</span></div>
<div class="t" style="left:1239.81px;top:1991px;font-size:28.8px;word-spacing:-0.78px;color:#595959"><span style="letter-spacing:0.3px">Pelleted</span></div>
<div class="t" style="left:1261.56px;top:2030px;font-size:28.8px;word-spacing:-0.78px;color:#595959"><span style="letter-spacing:0.12px">Fluid</span></div>
<div class="t" style="left:1250.78px;top:2069px;font-size:28.8px;word-spacing:-0.78px;color:#595959"><span style="letter-spacing:0.09px">(n=10)</span></div>
<div class="t" style="left:561.7px;top:2119px;font-size:28.8px;word-spacing:-0.78px;color:#595959"><span style="letter-spacing:0.11px">Positive</span></div>
<div class="t" style="left:716px;top:2119px;font-size:28.8px;word-spacing:-0.78px;color:#595959"><span class="x" style="letter-spacing:-0.72px;transform:scaleX(0.9357);margin-right:-3.67px">VUS</span></div>
<div class="t" style="left:824.1px;top:2119px;font-size:28.8px;word-spacing:-0.78px;color:#595959"><span style="letter-spacing:0.22px">Negative</span></div>
<div class="t" style="left:174.63px;top:2546px;font-size:28.8px;word-spacing:-0.78px"><b><span style="letter-spacing:-0.14px">Top</span> <span style="letter-spacing:0.2px">10</span> <span style="letter-spacing:-0.21px">Affected</span> <span class="x" style="letter-spacing:-0.72px;transform:scaleX(0.9998);margin-right:-0.02px">Sample</span> <span class="x" style="letter-spacing:-0.72px;transform:scaleX(0.9496);margin-right:-5.48px">Sources</span></b></div>
<div class="t" style="left:152.75px;top:2620px;font-size:23.94px;word-spacing:-0.62px"><b><span class="x" style="letter-spacing:-0.6px;transform:scaleX(0.9549);margin-right:-3.24px">Tissue</span> <span class="x" style="letter-spacing:-0.6px;transform:scaleX(0.9683);margin-right:-2.46px">Source</span></b></div>
<div class="t" style="left:393.34px;top:2620px;font-size:23.94px;word-spacing:-0.62px"><b><span style="letter-spacing:-0.56px">Positive</span></b></div>
<div class="t" style="left:516.47px;top:2620px;font-size:23.94px;word-spacing:-0.62px"><b><span class="x" style="letter-spacing:-0.6px;transform:scaleX(0.9624);margin-right:-1.78px">VUS</span></b></div>
<div class="t" style="left:592.11px;top:2620px;font-size:23.94px;word-spacing:-0.62px"><b><span style="letter-spacing:-0.18px">Negative</span></b></div>
<div class="t" style="left:323.86px;top:2659px;font-size:23.94px;word-spacing:-0.62px"><b><span class="x" style="letter-spacing:-0.6px;transform:scaleX(0.9579);margin-right:-2.03px">Skin</span></b></div>
<div class="t" style="left:423.52px;top:2659px;font-size:23.94px;word-spacing:-0.62px"><span style="letter-spacing:0.16px">85</span></div>
<div class="t" style="left:532.56px;top:2659px;font-size:23.94px;word-spacing:-0.62px"><span style="letter-spacing:0.16px">7</span></div>
<div class="t" style="left:627.82px;top:2659px;font-size:23.94px;word-spacing:-0.62px"><span style="letter-spacing:0.16px">27</span></div>
<div class="t" style="left:127.27px;top:2697px;font-size:23.94px;word-spacing:-0.62px"><b><span style="letter-spacing:-0.43px">Venous</span> <span style="letter-spacing:0.32px">Malformation</span></b></div>
<div class="t" style="left:423.52px;top:2697px;font-size:23.94px;word-spacing:-0.62px"><span style="letter-spacing:0.16px">12</span></div>
<div class="t" style="left:527.08px;top:2697px;font-size:23.94px;word-spacing:-0.62px"><span style="letter-spacing:0.17px">---</span></div>
<div class="t" style="left:634.56px;top:2697px;font-size:23.94px;word-spacing:-0.62px"><span style="letter-spacing:0.16px">2</span></div>
<div class="t" style="left:316.19px;top:2736px;font-size:23.94px;word-spacing:-0.62px"><b><span class="x" style="letter-spacing:-0.6px;transform:scaleX(0.9932);margin-right:-0.37px">Fluid</span></b></div>
<div class="t" style="left:430.26px;top:2736px;font-size:23.94px;word-spacing:-0.62px"><span style="letter-spacing:0.16px">1</span></div>
<div class="t" style="left:532.56px;top:2736px;font-size:23.94px;word-spacing:-0.62px"><span style="letter-spacing:0.16px">3</span></div>
<div class="t" style="left:634.56px;top:2736px;font-size:23.94px;word-spacing:-0.62px"><span style="letter-spacing:0.16px">9</span></div>
<div class="t" style="left:95.8px;top:2774px;font-size:23.94px;word-spacing:-0.62px"><b><span style="letter-spacing:-0.53px">Lymphatic</span> <span style="letter-spacing:0.32px">Malformation</span></b></div>
<div class="t" style="left:430.26px;top:2774px;font-size:23.94px;word-spacing:-0.62px"><span style="letter-spacing:0.16px">6</span></div>
<div class="t" style="left:527.08px;top:2774px;font-size:23.94px;word-spacing:-0.62px"><span style="letter-spacing:0.17px">---</span></div>
<div class="t" style="left:634.56px;top:2774px;font-size:23.94px;word-spacing:-0.62px"><span style="letter-spacing:0.16px">4</span></div>
<div class="t" style="left:319.97px;top:2812px;font-size:23.94px;word-spacing:-0.62px"><b><span style="letter-spacing:-0.45px">Foot</span></b></div>
<div class="t" style="left:423.52px;top:2812px;font-size:23.94px;word-spacing:-0.62px"><span style="letter-spacing:0.16px">10</span></div>
<div class="t" style="left:527.08px;top:2812px;font-size:23.94px;word-spacing:-0.62px"><span style="letter-spacing:0.17px">---</span></div>
<div class="t" style="left:629.08px;top:2812px;font-size:23.94px;word-spacing:-0.62px"><span style="letter-spacing:0.17px">---</span></div>
<div class="t" style="left:309.14px;top:2851px;font-size:23.94px;word-spacing:-0.62px"><b><span class="x" style="letter-spacing:-0.6px;transform:scaleX(0.9793);margin-right:-1.29px">Thigh</span></b></div>
<div class="t" style="left:430.26px;top:2851px;font-size:23.94px;word-spacing:-0.62px"><span style="letter-spacing:0.16px">5</span></div>
<div class="t" style="left:532.56px;top:2851px;font-size:23.94px;word-spacing:-0.62px"><span style="letter-spacing:0.16px">1</span></div>
<div class="t" style="left:634.56px;top:2851px;font-size:23.94px;word-spacing:-0.62px"><span style="letter-spacing:0.16px">2</span></div>
<div class="t" style="left:332.75px;top:2889px;font-size:23.94px;word-spacing:-0.62px"><b><span class="x" style="letter-spacing:-0.6px;transform:scaleX(0.9137);margin-right:-3.52px">Leg</span></b></div>
<div class="t" style="left:430.26px;top:2889px;font-size:23.94px;word-spacing:-0.62px"><span style="letter-spacing:0.16px">2</span></div>
<div class="t" style="left:527.08px;top:2889px;font-size:23.94px;word-spacing:-0.62px"><span style="letter-spacing:0.17px">---</span></div>
<div class="t" style="left:634.56px;top:2889px;font-size:23.94px;word-spacing:-0.62px"><span style="letter-spacing:0.16px">3</span></div>
<div class="t" style="left:315.19px;top:2927px;font-size:23.94px;word-spacing:-0.62px"><b><span class="x" style="letter-spacing:-0.6px;transform:scaleX(0.9995);margin-right:-0.03px">Neck</span></b></div>
<div class="t" style="left:430.26px;top:2927px;font-size:23.94px;word-spacing:-0.62px"><span style="letter-spacing:0.16px">3</span></div>
<div class="t" style="left:532.56px;top:2927px;font-size:23.94px;word-spacing:-0.62px"><span style="letter-spacing:0.16px">1</span></div>
<div class="t" style="left:634.56px;top:2927px;font-size:23.94px;word-spacing:-0.62px"><span style="letter-spacing:0.16px">1</span></div>
<div class="t" style="left:311.7px;top:2966px;font-size:23.94px;word-spacing:-0.62px"><b><span style="letter-spacing:-0.58px">Brain</span></b></div>
<div class="t" style="left:430.26px;top:2966px;font-size:23.94px;word-spacing:-0.62px"><span style="letter-spacing:0.16px">3</span></div>
<div class="t" style="left:532.56px;top:2966px;font-size:23.94px;word-spacing:-0.62px"><span style="letter-spacing:0.16px">1</span></div>
<div class="t" style="left:629.08px;top:2966px;font-size:23.94px;word-spacing:-0.62px"><span style="letter-spacing:0.17px">---</span></div>
<div class="t" style="left:337.94px;top:3004px;font-size:23.94px;word-spacing:-0.62px"><b><span class="x" style="letter-spacing:-0.6px;transform:scaleX(0.9400);margin-right:-2.05px">Lip</span></b></div>
<div class="t" style="left:430.26px;top:3004px;font-size:23.94px;word-spacing:-0.62px"><span style="letter-spacing:0.16px">3</span></div>
<div class="t" style="left:532.56px;top:3004px;font-size:23.94px;word-spacing:-0.62px"><span style="letter-spacing:0.16px">1</span></div>
<div class="t" style="left:629.08px;top:3004px;font-size:23.94px;word-spacing:-0.62px"><span style="letter-spacing:0.17px">---</span></div>
<div class="t" style="left:883.28px;top:2546px;font-size:28.8px;word-spacing:-0.78px"><b><span style="letter-spacing:-0.27px">Reported</span> <span style="letter-spacing:-0.28px">Allele</span> <span class="x" style="letter-spacing:-0.72px;transform:scaleX(0.9854);margin-right:-1.8px">Fractions</span></b></div>
<div class="t" style="left:803.53px;top:2904px;font-size:21.6px;word-spacing:-0.58px;color:#595959"><span style="letter-spacing:0.16px">0</span></div>
<div class="t" style="left:785.31px;top:2837px;font-size:21.6px;word-spacing:-0.58px;color:#595959"><span style="letter-spacing:0.12px">0.1</span></div>
<div class="t" style="left:785.31px;top:2769px;font-size:21.6px;word-spacing:-0.58px;color:#595959"><span style="letter-spacing:0.12px">0.2</span></div>
<div class="t" style="left:785.31px;top:2702px;font-size:21.6px;word-spacing:-0.58px;color:#595959"><span style="letter-spacing:0.12px">0.3</span></div>
<div class="t" style="left:785.31px;top:2635px;font-size:21.6px;word-spacing:-0.58px;color:#595959"><span style="letter-spacing:0.12px">0.4</span></div>
<div class="t" style="left:844.34px;top:2934px;font-size:21.6px;word-spacing:-0.58px;color:#595959"><span style="letter-spacing:0.16px">0</span></div>
<div class="t" style="left:894.86px;top:2934px;font-size:21.6px;word-spacing:-0.58px;color:#595959"><span style="letter-spacing:0.16px">6</span></div>
<div class="t" style="left:939.29px;top:2934px;font-size:21.6px;word-spacing:-0.58px;color:#595959"><span style="letter-spacing:0.15px">12</span></div>
<div class="t" style="left:989.81px;top:2934px;font-size:21.6px;word-spacing:-0.58px;color:#595959"><span style="letter-spacing:0.15px">18</span></div>
<div class="t" style="left:1040.32px;top:2934px;font-size:21.6px;word-spacing:-0.58px;color:#595959"><span style="letter-spacing:0.15px">24</span></div>
<div class="t" style="left:1090.84px;top:2934px;font-size:21.6px;word-spacing:-0.58px;color:#595959"><span style="letter-spacing:0.15px">30</span></div>
<div class="t" style="left:1141.35px;top:2934px;font-size:21.6px;word-spacing:-0.58px;color:#595959"><span style="letter-spacing:0.15px">36</span></div>
<div class="t" style="left:1191.86px;top:2934px;font-size:21.6px;word-spacing:-0.58px;color:#595959"><span style="letter-spacing:0.15px">42</span></div>
<div class="t" style="left:1242.38px;top:2934px;font-size:21.6px;word-spacing:-0.58px;color:#595959"><span style="letter-spacing:0.15px">48</span></div>
<div class="t" style="left:1292.89px;top:2934px;font-size:21.6px;word-spacing:-0.58px;color:#595959"><span style="letter-spacing:0.15px">54</span></div>
<div class="t" style="left:1343.41px;top:2934px;font-size:21.6px;word-spacing:-0.58px;color:#595959"><span style="letter-spacing:0.15px">60</span></div>
<div class="t" style="left:1063.89px;top:2968px;font-size:21.6px;word-spacing:-0.58px;color:#595959"><b><span class="x" style="letter-spacing:-0.54px;transform:scaleX(0.9944);margin-right:-0.22px">VAF</span> <span style="letter-spacing:-0.38px">(%)</span></b></div>
<div class="t" style="left:706.62px;top:2759px;font-size:21.6px;word-spacing:-0.58px;color:#595959;transform-origin:51.88px 18px;transform:rotate(-90deg)"><b><span class="x" style="letter-spacing:-0.54px;transform:scaleX(0.9945);margin-right:-0.58px">Frequency</span></b></div>
<div class="t" style="left:931px;top:3016px;font-size:21.6px;word-spacing:-0.58px;color:#595959"><b><span style="letter-spacing:-0.18px">Germline</span></b></div>
<div class="t" style="left:1068px;top:3016px;font-size:21.6px;word-spacing:-0.58px;color:#595959"><b><span class="x" style="letter-spacing:-0.54px;transform:scaleX(0.9955);margin-right:-0.36px">Somatic</span></b></div>
<div class="t" style="left:1193px;top:3016px;font-size:21.6px;word-spacing:-0.58px;color:#595959"><b><span style="letter-spacing:-0.42px">All</span></b></div>
<div class="t" style="left:1555.1px;top:3014px;font-size:23.94px;word-spacing:-0.62px"><b><span class="x" style="letter-spacing:-0.6px;transform:scaleX(0.9544);margin-right:-2.28px">ABD</span></b></div>
<div class="t" style="left:1743.17px;top:3014px;font-size:23.94px;word-spacing:-0.62px"><b><span class="x" style="letter-spacing:-0.6px;transform:scaleX(0.9316);margin-right:-3.42px">RBD</span></b></div>
<div class="t" style="left:1939.22px;top:3014px;font-size:23.94px;word-spacing:-0.62px"><b><span class="x" style="letter-spacing:-0.6px;transform:scaleX(0.9371);margin-right:-1.85px">C2</span></b></div>
<div class="t" style="left:2122.68px;top:3014px;font-size:23.94px;word-spacing:-0.62px"><b><span style="letter-spacing:-0.45px">Helical</span></b></div>
<div class="t" style="left:2443.22px;top:3014px;font-size:23.94px;word-spacing:-0.62px"><b><span style="letter-spacing:-0.47px">Catalytic</span></b></div>
<div class="t" style="left:1509.41px;top:3066px;font-size:21.6px;word-spacing:-0.58px;color:#595959"><span style="letter-spacing:0.16px">0</span></div>
<div class="t" style="left:1711.69px;top:3066px;font-size:21.6px;word-spacing:-0.58px;color:#595959"><span style="letter-spacing:0.16px">200</span></div>
<div class="t" style="left:1926.13px;top:3066px;font-size:21.6px;word-spacing:-0.58px;color:#595959"><span style="letter-spacing:0.16px">400</span></div>
<div class="t" style="left:2140.57px;top:3066px;font-size:21.6px;word-spacing:-0.58px;color:#595959"><span style="letter-spacing:0.16px">600</span></div>
<div class="t" style="left:2355.01px;top:3066px;font-size:21.6px;word-spacing:-0.58px;color:#595959"><span style="letter-spacing:0.16px">800</span></div>
<div class="t" style="left:2563.37px;top:3066px;font-size:21.6px;word-spacing:-0.58px;color:#595959"><span style="letter-spacing:0.15px">1000</span></div>
<div class="t" style="left:3011.48px;top:1954px;font-size:23.94px;word-spacing:-0.62px"><b><span class="x" style="letter-spacing:-0.6px;transform:scaleX(0.9984);margin-right:-0.04px">IG</span></b></div>
<div class="t" style="left:3182.94px;top:1954px;font-size:23.94px;word-spacing:-0.62px"><b><span class="x" style="letter-spacing:-0.6px;transform:scaleX(0.8883);margin-right:-5.3px">EGF</span></b></div>
<div class="t" style="left:3299.22px;top:1954px;font-size:23.94px;word-spacing:-0.62px"><b><span class="x" style="letter-spacing:-0.6px;transform:scaleX(0.9371);margin-right:-1.85px">C2</span></b></div>
<div class="t" style="left:3481.13px;top:1954px;font-size:23.94px;word-spacing:-0.62px"><b><span class="x" style="letter-spacing:-0.6px;transform:scaleX(0.9678);margin-right:-0.99px">FN</span></b></div>
<div class="t" style="left:3765.39px;top:1954px;font-size:23.94px;word-spacing:-0.62px"><b><span style="letter-spacing:-0.16px">Protein</span> <span class="x" style="letter-spacing:-0.6px;transform:scaleX(0.9676);margin-right:-2.42px">Kinase</span></b></div>
<div class="t" style="left:2940.21px;top:2005px;font-size:21.6px;word-spacing:-0.58px;color:#595959"><span style="letter-spacing:0.16px">0</span></div>
<div class="t" style="left:3114.94px;top:2005px;font-size:21.6px;word-spacing:-0.58px;color:#595959"><span style="letter-spacing:0.16px">200</span></div>
<div class="t" style="left:3301.83px;top:2005px;font-size:21.6px;word-spacing:-0.58px;color:#595959"><span style="letter-spacing:0.16px">400</span></div>
<div class="t" style="left:3488.72px;top:2005px;font-size:21.6px;word-spacing:-0.58px;color:#595959"><span style="letter-spacing:0.16px">600</span></div>
<div class="t" style="left:3675.61px;top:2005px;font-size:21.6px;word-spacing:-0.58px;color:#595959"><span style="letter-spacing:0.16px">800</span></div>
<div class="t" style="left:3856.42px;top:2005px;font-size:21.6px;word-spacing:-0.58px;color:#595959"><span style="letter-spacing:0.15px">1000</span></div>
<div class="t" style="left:3089.03px;top:1524px;font-size:38.16px;word-spacing:-1.02px"><b><span style="letter-spacing:-0.42px">Double</span> </b><b><i><span class="x" style="letter-spacing:-0.95px;transform:scaleX(0.8830);margin-right:-8.59px">TEK</span></i></b><b> <span style="letter-spacing:-0.58px">variants</span></b></div>
<div class="t" style="left:2983.5px;top:1585px;font-size:28.62px;word-spacing:-0.77px"><b><span style="letter-spacing:-0.44px">Confirmed</span> <span style="letter-spacing:-0.28px">in</span> </b><b><i><span class="x" style="letter-spacing:-0.72px;transform:scaleX(0.8885);margin-right:-4.2px">cis</span></i></b><b> <span style="letter-spacing:-0.33px">(exon</span> <span style="letter-spacing:0.26px">17)</span></b></div>
<div class="t" style="left:2957.95px;top:1640px;font-size:28.62px;word-spacing:-0.77px"><span class="x" style="letter-spacing:-0.72px;transform:scaleX(0.9715);margin-right:-5.08px">Y897C-R915C</span></div>
<div class="t" style="left:3176.86px;top:1640px;font-size:28.62px;word-spacing:-0.77px"><span class="x" style="letter-spacing:-0.72px;transform:scaleX(0.9915);margin-right:-1.52px">Y897N-R915C</span></div>
<div class="t" style="left:3388.93px;top:1640px;font-size:28.62px;word-spacing:-0.77px"><span style="letter-spacing:-0.71px">L914F;</span> <span style="letter-spacing:0.4px">K1110N</span></div>
<div class="t" style="left:2957.95px;top:1709px;font-size:28.62px;word-spacing:-0.77px"><span class="x" style="letter-spacing:-0.72px;transform:scaleX(0.9715);margin-right:-5.08px">Y897C-R918C</span></div>
<div class="t" style="left:3178.39px;top:1709px;font-size:28.62px;word-spacing:-0.77px"><span class="x" style="letter-spacing:-0.72px;transform:scaleX(0.9921);margin-right:-1.38px">Y897F-R918H</span></div>
<div class="t" style="left:3396.89px;top:1709px;font-size:28.62px;word-spacing:-0.77px"><span style="letter-spacing:-0.71px">L914F;</span> <span style="letter-spacing:0.89px">Q795*</span></div>
<div class="t" style="left:2959.74px;top:1778px;font-size:28.62px;word-spacing:-0.77px"><span class="x" style="letter-spacing:-0.72px;transform:scaleX(0.9774);margin-right:-3.93px">Y897C-R918L</span></div>
<div class="t" style="left:3158.11px;top:1778px;font-size:28.62px;word-spacing:-0.77px"><span style="letter-spacing:0.37px">K1110N-G1115A</span></div>
<div class="t" style="left:3399.13px;top:1778px;font-size:28.62px;word-spacing:-0.77px"><span style="letter-spacing:-0.71px">L914F;</span> <span class="x" style="letter-spacing:-0.72px;transform:scaleX(0.9856);margin-right:-1.19px">R849T</span></div>
<div class="t" style="left:1758.07px;top:1777px;font-size:21.6px;word-spacing:-0.58px;transform-origin:26.27px 18.25px;transform:rotate(1.71deg)"><b><span class="x" style="letter-spacing:-0.54px;transform:scaleX(0.9085);margin-right:-5.29px">BRAF</span></b></div>
<div class="t" style="left:1751.06px;top:1754px;font-size:21.6px;word-spacing:-0.58px;transform-origin:34.26px 17.74px;transform:rotate(5.54deg)"><b><span class="x" style="letter-spacing:-0.54px;transform:scaleX(0.9557);margin-right:-3.17px">CCND2</span></b></div>
<div class="t" style="left:1752.87px;top:1730px;font-size:21.6px;word-spacing:-0.58px;transform-origin:34.99px 18.35px;transform:rotate(9.37deg)"><b><span style="letter-spacing:-0.41px">GNA14</span></b></div>
<div class="t" style="left:1767.55px;top:1707px;font-size:21.6px;word-spacing:-0.58px;transform-origin:24.42px 18.18px;transform:rotate(13.2deg)"><b><span style="letter-spacing:-0.09px">IDH1</span></b></div>
<div class="t" style="left:1773.2px;top:1684px;font-size:21.6px;word-spacing:-0.58px;transform-origin:24.42px 18.34px;transform:rotate(17.03deg)"><b><span style="letter-spacing:-0.09px">IDH2</span></b></div>
<div class="t" style="left:1802.81px;top:1608px;font-size:21.6px;word-spacing:-0.58px;transform-origin:26.27px 18.41px;transform:rotate(30.44deg)"><b><span class="x" style="letter-spacing:-0.54px;transform:scaleX(0.8899);margin-right:-6.5px">KRAS</span></b></div>
<div class="t" style="left:1856.83px;top:1533px;font-size:21.6px;word-spacing:-0.58px;transform-origin:28.55px 18.32px;transform:rotate(45.76deg)"><b><span class="x" style="letter-spacing:-0.54px;transform:scaleX(0.9565);margin-right:-2.6px">KRIT1</span></b></div>
<div class="t" style="left:1877.65px;top:1502px;font-size:21.6px;word-spacing:-0.58px;transform-origin:42.88px 18.07px;transform:rotate(53.42deg)"><b><span style="letter-spacing:-0.31px">MAP2K1</span></b></div>
<div class="t" style="left:1926.92px;top:1470px;font-size:21.6px;word-spacing:-0.58px;transform-origin:42.88px 18.03px;transform:rotate(62.99deg)"><b><span style="letter-spacing:-0.31px">MAP3K3</span></b></div>
<div class="t" style="left:1985.01px;top:1451px;font-size:21.6px;word-spacing:-0.58px;transform-origin:27.61px 17.59px;transform:rotate(70.65deg)"><b><span class="x" style="letter-spacing:-0.54px;transform:scaleX(0.9355);margin-right:-3.81px">NRAS</span></b></div>
<div class="t" style="left:2022.59px;top:1437px;font-size:21.6px;word-spacing:-0.58px;transform-origin:35.07px 18.04px;transform:rotate(78.31deg)"><b><span class="x" style="letter-spacing:-0.54px;transform:scaleX(0.9690);margin-right:-2.24px">PIK3R1</span></b></div>
<div class="t" style="left:2144.02px;top:1437px;font-size:21.6px;word-spacing:-0.58px;color:#fff;transform-origin:25.66px 18.4px;transform:rotate(5.54deg)"><span class="x" style="letter-spacing:-0.54px;transform:scaleX(0.9257);margin-right:-4.12px">PTEN</span></div>
<div class="t" style="left:2245.13px;top:1454px;font-size:21.6px;word-spacing:-0.58px;color:#fff;transform-origin:23.72px 17.98px;transform:rotate(-69.14deg)"><span class="x" style="letter-spacing:-0.54px;transform:scaleX(0.9973);margin-right:-0.13px">SMO</span></div>
<div class="t" style="left:2389.05px;top:1567px;font-size:21.6px;word-spacing:-0.58px;color:#fff;transform-origin:17.95px 18.12px;transform:rotate(53.42deg)"><span class="x" style="letter-spacing:-0.54px;transform:scaleX(0.8888);margin-right:-4.49px">TEK</span></div>
<div class="t" style="left:2463.92px;top:1751px;font-size:21.6px;word-spacing:-0.58px;transform-origin:25.86px 18.03px;transform:rotate(-5.94deg)"><b><span class="x" style="letter-spacing:-0.54px;transform:scaleX(0.9537);margin-right:-2.51px">AKT1</span></b></div>
<div class="t" style="left:2465.08px;top:1775px;font-size:21.6px;word-spacing:-0.58px;transform-origin:25.86px 17.7px;transform:rotate(-2.11deg)"><b><span class="x" style="letter-spacing:-0.54px;transform:scaleX(0.9537);margin-right:-2.51px">AKT2</span></b></div>
<div class="t" style="left:2464.65px;top:1798px;font-size:21.6px;word-spacing:-0.58px;transform-origin:25.86px 18.39px;transform:rotate(1.71deg)"><b><span class="x" style="letter-spacing:-0.54px;transform:scaleX(0.9537);margin-right:-2.51px">AKT3</span></b></div>
<div class="t" style="left:2448.05px;top:1857px;font-size:21.6px;word-spacing:-0.58px;transform-origin:34.99px 18.13px;transform:rotate(11.29deg)"><b><span style="letter-spacing:-0.17px">GNA11</span></b></div>
<div class="t" style="left:2421.99px;top:1934px;font-size:21.6px;word-spacing:-0.58px;transform-origin:31.05px 18.14px;transform:rotate(24.69deg)"><b><span class="x" style="letter-spacing:-0.54px;transform:scaleX(0.9918);margin-right:-0.51px">GNAQ</span></b></div>
<div class="t" style="left:2391.72px;top:1985px;font-size:21.6px;word-spacing:-0.58px;transform-origin:31.3px 17.67px;transform:rotate(34.27deg)"><b><span style="letter-spacing:-0.14px">MTOR</span></b></div>
<div class="t" style="left:1995.67px;top:2124px;font-size:21.6px;word-spacing:-0.58px;transform-origin:35.73px 18.11px;transform:rotate(15.12deg)"><b><i><span class="x" style="letter-spacing:-0.54px;transform:scaleX(0.9406);margin-right:-4.51px">PIK3CA</span></i></b></div>
<div class="t" style="left:1754.72px;top:1812px;font-size:21.6px;word-spacing:-0.58px;transform-origin:35.07px 18.22px;transform:rotate(-4.03deg)"><b><span class="x" style="letter-spacing:-0.54px;transform:scaleX(0.9690);margin-right:-2.24px">PIK3R2</span></b></div>
<div class="t" style="left:2057.7px;top:1759px;font-size:23.94px;word-spacing:-0.62px"><span class="x" style="letter-spacing:-0.6px;transform:scaleX(0.9354);margin-right:-3.06px">VUS</span></div>
<div class="t" style="left:2057.7px;top:1791px;font-size:23.94px;word-spacing:-0.62px"><span style="letter-spacing:-0.08px">Likely</span> <span style="letter-spacing:0.07px">Pathogenic</span></div>
<div class="t" style="left:2057.7px;top:1823px;font-size:23.94px;word-spacing:-0.62px"><span style="letter-spacing:0.07px">Pathogenic</span></div>
<div class="t" style="left:1574.62px;top:1701px;font-size:23.94px;word-spacing:-0.62px"><span style="letter-spacing:-0.18px">Expanded</span></div>
<div class="t" style="left:1620.97px;top:1734px;font-size:23.94px;word-spacing:-0.62px"><span style="letter-spacing:0.29px">panel</span></div>
<div class="t" style="left:1617.64px;top:1766px;font-size:23.94px;word-spacing:-0.62px"><span style="letter-spacing:-0.38px">genes</span></div>
<div class="t sf" style="left:3563px;top:97px;font-size:278px;letter-spacing:-12px;color:#011f5b">Penn</div>
<div class="t sf" style="left:3569px;top:345px;font-size:35px;letter-spacing:2.85px;color:#011f5b">U<span style="font-size:.81em">NIVERSITY</span> <i>of</i> P<span style="font-size:.81em">ENNSYLVANIA</span></div>
</body></html>
